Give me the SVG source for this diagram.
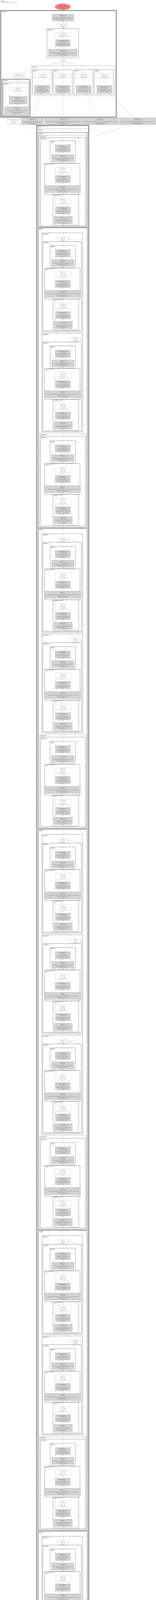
<svg xmlns="http://www.w3.org/2000/svg" width="400" height="4710" viewBox="0 0 400 4710">
<style>
text{font-family:"Liberation Sans",Arial,"DejaVu Sans",sans-serif;fill:#1a1a1a}
.t{font-size:2.4px;text-anchor:middle}
.s{font-size:2.1px}
.lb{font-size:2.1px}
.b{font-weight:bold}
.gn{fill:#d3d3d3;stroke:#8c8c8c;stroke-width:0.3}
.wn{fill:#fff;stroke:#8c8c8c;stroke-width:0.3}
.c{fill:none;stroke:#1a1a1a;stroke-width:0.4}
.cd{fill:none;stroke:#1a1a1a;stroke-width:0.4;stroke-dasharray:1.6 0.8}
.cs{fill:none;stroke:#000;stroke-width:0.6}
.ck{fill:none;stroke:#000;stroke-width:1}
.e{fill:none;stroke:#8f8f8f;stroke-width:0.3;marker-end:url(#ah)}
</style>
<defs>
<marker id="ah" viewBox="0 0 10 10" refX="10" refY="5" markerWidth="1.7" markerHeight="1.7" markerUnits="userSpaceOnUse" orient="auto"><path d="M0,1L10,5L0,9z" fill="#404040"/></marker>
<g id="eBlk"><path class="e" d="M161.8 194L161.8 188"/><path class="e" d="M161.6 169L161.6 163.4"/><path class="e" d="M161.6 147.4L161.3 133.4"/><path class="e" d="M161.2 114.7L161.2 108"/><path class="e" d="M161.2 89L161.2 83.4"/><path class="e" d="M161.2 67.4L161.2 54"/><path class="e" d="M161.2 35.7L161.2 29.7"/></g>
</defs>
<rect width="400" height="4710" fill="#fff"/>
<text class="lb" x="2" y="2.4" style="font-size:1.9px"><tspan class="b" x="2">DeepLabV3</tspan><tspan x="2" dy="2.1">283 tensors total (152.6 MB)</tspan><tspan x="2" dy="2.1">2,587,509 params total (9.9 MB), 158 modules total</tspan></text>

<g id="clusters">
<rect class="ck" x="2" y="27" width="296" height="273"/>
<text class="lb" x="4" y="29.6"><tspan class="b" x="4">DeepLabHead</tspan><tspan x="4" dy="2.4">@classifier</tspan></text>
<rect class="c" x="120.7" y="73.3" width="81" height="74.7"/>
<text class="lb" x="122.2" y="75.9"><tspan class="b" x="122.2">Sequential</tspan><tspan x="122.2" dy="2.4">@classifier.0.project</tspan></text>
<rect class="cd" x="80.7" y="168.3" width="214.3" height="76.7"/>
<text class="lb" x="82.2" y="170.9"><tspan class="b" x="82.2">ModuleList</tspan><tspan x="82.2" dy="2.4">@classifier.0.convs</tspan></text>
<rect class="c" x="83.3" y="178.3" width="50" height="63.4"/>
<text class="lb" x="84.8" y="180.9"><tspan class="b" x="84.8">Sequential</tspan><tspan x="84.8" dy="2.4">@convs.0</tspan></text>
<rect class="c" x="136.7" y="178.3" width="49" height="63.4"/>
<text class="lb" x="138.2" y="180.9"><tspan class="b" x="138.2">ASPPConv</tspan><tspan x="138.2" dy="2.4">@convs.1</tspan></text>
<rect class="c" x="189.3" y="178.3" width="49" height="63.4"/>
<text class="lb" x="190.8" y="180.9"><tspan class="b" x="190.8">ASPPConv</tspan><tspan x="190.8" dy="2.4">@convs.2</tspan></text>
<rect class="c" x="242" y="178.3" width="49.7" height="63.4"/>
<text class="lb" x="243.5" y="180.9"><tspan class="b" x="243.5">ASPPConv</tspan><tspan x="243.5" dy="2.4">@convs.3</tspan></text>
<rect class="cs" x="5" y="202.7" width="72.3" height="94.6"/>
<rect class="c" x="6.7" y="204.4" width="69" height="91.2"/>
<text class="lb" x="8.2" y="206.9"><tspan class="b" x="8.2">ASPPPooling</tspan><tspan x="8.2" dy="2.4">@convs.4</tspan></text>
<rect class="c" x="8.3" y="212" width="65.7" height="81.5"/>
<text class="lb" x="9.8" y="214.6"><tspan class="b" x="9.8">Sequential</tspan><tspan x="9.8" dy="2.4">@convs.4.pool</tspan></text>

<rect class="ck" x="94.3" y="321" width="133.4" height="4368"/>
<text class="lb" x="95.8" y="323.6"><tspan class="b" x="95.8">IntermediateLayerGetter</tspan><tspan x="95.8" dy="2.4">@backbone</tspan></text>
<rect class="cd" x="96.5" y="330" width="129" height="4272"/>
<text class="lb" x="98" y="332.6"><tspan class="b" x="98">Sequential</tspan><tspan x="98" dy="2.4">@features</tspan></text>

<rect class="cs" x="98.8" y="339" width="124.7" height="243"/>
<text class="lb" x="100.3" y="341.6"><tspan class="b" x="100.3">Sequential</tspan><tspan x="100.3" dy="2.4">@stage7</tspan></text>
<rect class="cs" x="98.8" y="583" width="124.7" height="768"/>
<text class="lb" x="100.3" y="585.6"><tspan class="b" x="100.3">Sequential</tspan><tspan x="100.3" dy="2.4">@stage6</tspan></text>
<rect class="cs" x="98.8" y="1353" width="124.7" height="768"/>
<text class="lb" x="100.3" y="1355.6"><tspan class="b" x="100.3">Sequential</tspan><tspan x="100.3" dy="2.4">@stage5</tspan></text>
<rect class="cs" x="98.8" y="2123" width="124.7" height="1025"/>
<text class="lb" x="100.3" y="2125.6"><tspan class="b" x="100.3">Sequential</tspan><tspan x="100.3" dy="2.4">@stage4</tspan></text>
<rect class="cs" x="98.8" y="3150" width="124.7" height="768"/>
<text class="lb" x="100.3" y="3152.6"><tspan class="b" x="100.3">Sequential</tspan><tspan x="100.3" dy="2.4">@stage3</tspan></text>
<rect class="cs" x="98.8" y="3920" width="124.7" height="511"/>
<text class="lb" x="100.3" y="3922.6"><tspan class="b" x="100.3">Sequential</tspan><tspan x="100.3" dy="2.4">@stage2</tspan></text>
<rect class="cs" x="98.8" y="4433" width="124.7" height="167.5"/>
<text class="lb" x="100.3" y="4435.6"><tspan class="b" x="100.3">Sequential</tspan><tspan x="100.3" dy="2.4">@stage1</tspan></text>

<g id="k-A1">
<rect class="cd" x="101.5" y="346" width="120" height="234"/>
<text class="lb" x="103" y="348.6"><tspan class="b" x="103">InvertedResidual</tspan><tspan x="103" dy="2.4">@features.17</tspan></text>
<rect class="c" x="104" y="352.5" width="115" height="226"/>
<text class="lb" x="105.5" y="355.1"><tspan class="b" x="105.5">Sequential</tspan><tspan x="105.5" dy="2.4">@features.17.conv</tspan></text>
<rect class="c" x="128.3" y="360" width="65" height="57.4"/>
<text class="lb" x="129.8" y="362.6"><tspan class="b" x="129.8">Sequential</tspan><tspan x="129.8" dy="2.4">@conv.2-3</tspan></text>
<rect class="c" x="114.3" y="418.4" width="90.7" height="79"/>
<text class="lb" x="115.8" y="421"><tspan class="b" x="115.8">Conv2dNormActivation</tspan><tspan x="115.8" dy="2.4">@conv.1</tspan></text>
<rect class="c" x="136" y="497.4" width="66" height="79"/>
<text class="lb" x="137.5" y="500"><tspan class="b" x="137.5">Conv2dNormActivation</tspan><tspan x="137.5" dy="2.4">@conv.0</tspan></text>
</g>
<g id="k-B1">
<rect class="c" x="107.3" y="596" width="104.4" height="253"/>
<text class="lb" x="108.8" y="598.6"><tspan class="b" x="108.8">InvertedResidual</tspan><tspan x="108.8" dy="2.4">@features.16</tspan></text>
<rect class="c" x="110" y="618.3" width="98.3" height="228"/>
<text class="lb" x="111.5" y="620.9"><tspan class="b" x="111.5">Sequential</tspan><tspan x="111.5" dy="2.4">@features.16.conv</tspan></text>
<rect class="c" x="128.3" y="628.3" width="65" height="57.4"/>
<text class="lb" x="129.8" y="630.9"><tspan class="b" x="129.8">Sequential</tspan><tspan x="129.8" dy="2.4">@conv.2-3</tspan></text>
<rect class="c" x="114.3" y="686.7" width="90.7" height="79"/>
<text class="lb" x="115.8" y="689.3"><tspan class="b" x="115.8">Conv2dNormActivation</tspan><tspan x="115.8" dy="2.4">@conv.1</tspan></text>
<rect class="c" x="136" y="765.7" width="66" height="79"/>
<text class="lb" x="137.5" y="768.3"><tspan class="b" x="137.5">Conv2dNormActivation</tspan><tspan x="137.5" dy="2.4">@conv.0</tspan></text>
</g>
<g id="k-B2">
<rect class="c" x="107.3" y="853" width="104.4" height="253"/>
<text class="lb" x="108.8" y="855.6"><tspan class="b" x="108.8">InvertedResidual</tspan><tspan x="108.8" dy="2.4">@features.15</tspan></text>
<rect class="c" x="110" y="875.3" width="98.3" height="228"/>
<text class="lb" x="111.5" y="877.9"><tspan class="b" x="111.5">Sequential</tspan><tspan x="111.5" dy="2.4">@features.15.conv</tspan></text>
<rect class="c" x="128.3" y="885.3" width="65" height="57.4"/>
<text class="lb" x="129.8" y="887.9"><tspan class="b" x="129.8">Sequential</tspan><tspan x="129.8" dy="2.4">@conv.2-3</tspan></text>
<rect class="c" x="114.3" y="943.7" width="90.7" height="79"/>
<text class="lb" x="115.8" y="946.3"><tspan class="b" x="115.8">Conv2dNormActivation</tspan><tspan x="115.8" dy="2.4">@conv.1</tspan></text>
<rect class="c" x="136" y="1022.7" width="66" height="79"/>
<text class="lb" x="137.5" y="1025.3"><tspan class="b" x="137.5">Conv2dNormActivation</tspan><tspan x="137.5" dy="2.4">@conv.0</tspan></text>
</g>
<g id="k-B3">
<rect class="cd" x="101.5" y="1110" width="120" height="239"/>
<text class="lb" x="103" y="1112.6"><tspan class="b" x="103">InvertedResidual</tspan><tspan x="103" dy="2.4">@features.14</tspan></text>
<rect class="c" x="104" y="1117" width="115" height="229.5"/>
<text class="lb" x="105.5" y="1119.6"><tspan class="b" x="105.5">Sequential</tspan><tspan x="105.5" dy="2.4">@features.14.conv</tspan></text>
<rect class="c" x="128.3" y="1128" width="65" height="57.4"/>
<text class="lb" x="129.8" y="1130.6"><tspan class="b" x="129.8">Sequential</tspan><tspan x="129.8" dy="2.4">@conv.2-3</tspan></text>
<rect class="c" x="114.3" y="1186.4" width="90.7" height="79"/>
<text class="lb" x="115.8" y="1189"><tspan class="b" x="115.8">Conv2dNormActivation</tspan><tspan x="115.8" dy="2.4">@conv.1</tspan></text>
<rect class="c" x="136" y="1265.4" width="66" height="79"/>
<text class="lb" x="137.5" y="1268"><tspan class="b" x="137.5">Conv2dNormActivation</tspan><tspan x="137.5" dy="2.4">@conv.0</tspan></text>
</g>
<g id="k-C1">
<rect class="c" x="107.3" y="1366" width="104.4" height="253"/>
<text class="lb" x="108.8" y="1368.6"><tspan class="b" x="108.8">InvertedResidual</tspan><tspan x="108.8" dy="2.4">@features.13</tspan></text>
<rect class="c" x="110" y="1388.3" width="98.3" height="228"/>
<text class="lb" x="111.5" y="1390.9"><tspan class="b" x="111.5">Sequential</tspan><tspan x="111.5" dy="2.4">@features.13.conv</tspan></text>
<rect class="c" x="128.3" y="1398.3" width="65" height="57.4"/>
<text class="lb" x="129.8" y="1400.9"><tspan class="b" x="129.8">Sequential</tspan><tspan x="129.8" dy="2.4">@conv.2-3</tspan></text>
<rect class="c" x="114.3" y="1456.7" width="90.7" height="79"/>
<text class="lb" x="115.8" y="1459.3"><tspan class="b" x="115.8">Conv2dNormActivation</tspan><tspan x="115.8" dy="2.4">@conv.1</tspan></text>
<rect class="c" x="136" y="1535.7" width="66" height="79"/>
<text class="lb" x="137.5" y="1538.3"><tspan class="b" x="137.5">Conv2dNormActivation</tspan><tspan x="137.5" dy="2.4">@conv.0</tspan></text>
</g>
<g id="k-C2">
<rect class="c" x="107.3" y="1623" width="104.4" height="253"/>
<text class="lb" x="108.8" y="1625.6"><tspan class="b" x="108.8">InvertedResidual</tspan><tspan x="108.8" dy="2.4">@features.12</tspan></text>
<rect class="c" x="110" y="1645.3" width="98.3" height="228"/>
<text class="lb" x="111.5" y="1647.9"><tspan class="b" x="111.5">Sequential</tspan><tspan x="111.5" dy="2.4">@features.12.conv</tspan></text>
<rect class="c" x="128.3" y="1655.3" width="65" height="57.4"/>
<text class="lb" x="129.8" y="1657.9"><tspan class="b" x="129.8">Sequential</tspan><tspan x="129.8" dy="2.4">@conv.2-3</tspan></text>
<rect class="c" x="114.3" y="1713.7" width="90.7" height="79"/>
<text class="lb" x="115.8" y="1716.3"><tspan class="b" x="115.8">Conv2dNormActivation</tspan><tspan x="115.8" dy="2.4">@conv.1</tspan></text>
<rect class="c" x="136" y="1792.7" width="66" height="79"/>
<text class="lb" x="137.5" y="1795.3"><tspan class="b" x="137.5">Conv2dNormActivation</tspan><tspan x="137.5" dy="2.4">@conv.0</tspan></text>
</g>
<g id="k-C3">
<rect class="cd" x="101.5" y="1880" width="120" height="239"/>
<text class="lb" x="103" y="1882.6"><tspan class="b" x="103">InvertedResidual</tspan><tspan x="103" dy="2.4">@features.11</tspan></text>
<rect class="c" x="104" y="1887" width="115" height="229.5"/>
<text class="lb" x="105.5" y="1889.6"><tspan class="b" x="105.5">Sequential</tspan><tspan x="105.5" dy="2.4">@features.11.conv</tspan></text>
<rect class="c" x="128.3" y="1898" width="65" height="57.4"/>
<text class="lb" x="129.8" y="1900.6"><tspan class="b" x="129.8">Sequential</tspan><tspan x="129.8" dy="2.4">@conv.2-3</tspan></text>
<rect class="c" x="114.3" y="1956.4" width="90.7" height="79"/>
<text class="lb" x="115.8" y="1959"><tspan class="b" x="115.8">Conv2dNormActivation</tspan><tspan x="115.8" dy="2.4">@conv.1</tspan></text>
<rect class="c" x="136" y="2035.4" width="66" height="79"/>
<text class="lb" x="137.5" y="2038"><tspan class="b" x="137.5">Conv2dNormActivation</tspan><tspan x="137.5" dy="2.4">@conv.0</tspan></text>
</g>
<g id="k-D1">
<rect class="c" x="107.3" y="2136" width="104.4" height="253"/>
<text class="lb" x="108.8" y="2138.6"><tspan class="b" x="108.8">InvertedResidual</tspan><tspan x="108.8" dy="2.4">@features.10</tspan></text>
<rect class="c" x="110" y="2158.3" width="98.3" height="228"/>
<text class="lb" x="111.5" y="2160.9"><tspan class="b" x="111.5">Sequential</tspan><tspan x="111.5" dy="2.4">@features.10.conv</tspan></text>
<rect class="c" x="128.3" y="2168.3" width="65" height="57.4"/>
<text class="lb" x="129.8" y="2170.9"><tspan class="b" x="129.8">Sequential</tspan><tspan x="129.8" dy="2.4">@conv.2-3</tspan></text>
<rect class="c" x="114.3" y="2226.7" width="90.7" height="79"/>
<text class="lb" x="115.8" y="2229.3"><tspan class="b" x="115.8">Conv2dNormActivation</tspan><tspan x="115.8" dy="2.4">@conv.1</tspan></text>
<rect class="c" x="136" y="2305.7" width="66" height="79"/>
<text class="lb" x="137.5" y="2308.3"><tspan class="b" x="137.5">Conv2dNormActivation</tspan><tspan x="137.5" dy="2.4">@conv.0</tspan></text>
</g>
<g id="k-D2">
<rect class="c" x="107.3" y="2393" width="104.4" height="253"/>
<text class="lb" x="108.8" y="2395.6"><tspan class="b" x="108.8">InvertedResidual</tspan><tspan x="108.8" dy="2.4">@features.9</tspan></text>
<rect class="c" x="110" y="2415.3" width="98.3" height="228"/>
<text class="lb" x="111.5" y="2417.9"><tspan class="b" x="111.5">Sequential</tspan><tspan x="111.5" dy="2.4">@features.9.conv</tspan></text>
<rect class="c" x="128.3" y="2425.3" width="65" height="57.4"/>
<text class="lb" x="129.8" y="2427.9"><tspan class="b" x="129.8">Sequential</tspan><tspan x="129.8" dy="2.4">@conv.2-3</tspan></text>
<rect class="c" x="114.3" y="2483.7" width="90.7" height="79"/>
<text class="lb" x="115.8" y="2486.3"><tspan class="b" x="115.8">Conv2dNormActivation</tspan><tspan x="115.8" dy="2.4">@conv.1</tspan></text>
<rect class="c" x="136" y="2562.7" width="66" height="79"/>
<text class="lb" x="137.5" y="2565.3"><tspan class="b" x="137.5">Conv2dNormActivation</tspan><tspan x="137.5" dy="2.4">@conv.0</tspan></text>
</g>
<g id="k-D3">
<rect class="c" x="107.3" y="2650" width="104.4" height="253"/>
<text class="lb" x="108.8" y="2652.6"><tspan class="b" x="108.8">InvertedResidual</tspan><tspan x="108.8" dy="2.4">@features.8</tspan></text>
<rect class="c" x="110" y="2672.3" width="98.3" height="228"/>
<text class="lb" x="111.5" y="2674.9"><tspan class="b" x="111.5">Sequential</tspan><tspan x="111.5" dy="2.4">@features.8.conv</tspan></text>
<rect class="c" x="128.3" y="2682.3" width="65" height="57.4"/>
<text class="lb" x="129.8" y="2684.9"><tspan class="b" x="129.8">Sequential</tspan><tspan x="129.8" dy="2.4">@conv.2-3</tspan></text>
<rect class="c" x="114.3" y="2740.7" width="90.7" height="79"/>
<text class="lb" x="115.8" y="2743.3"><tspan class="b" x="115.8">Conv2dNormActivation</tspan><tspan x="115.8" dy="2.4">@conv.1</tspan></text>
<rect class="c" x="136" y="2819.7" width="66" height="79"/>
<text class="lb" x="137.5" y="2822.3"><tspan class="b" x="137.5">Conv2dNormActivation</tspan><tspan x="137.5" dy="2.4">@conv.0</tspan></text>
</g>
<g id="k-D4">
<rect class="cd" x="101.5" y="2907" width="120" height="239"/>
<text class="lb" x="103" y="2909.6"><tspan class="b" x="103">InvertedResidual</tspan><tspan x="103" dy="2.4">@features.7</tspan></text>
<rect class="c" x="104" y="2914" width="115" height="229.5"/>
<text class="lb" x="105.5" y="2916.6"><tspan class="b" x="105.5">Sequential</tspan><tspan x="105.5" dy="2.4">@features.7.conv</tspan></text>
<rect class="c" x="128.3" y="2925" width="65" height="57.4"/>
<text class="lb" x="129.8" y="2927.6"><tspan class="b" x="129.8">Sequential</tspan><tspan x="129.8" dy="2.4">@conv.2-3</tspan></text>
<rect class="c" x="114.3" y="2983.4" width="90.7" height="79"/>
<text class="lb" x="115.8" y="2986"><tspan class="b" x="115.8">Conv2dNormActivation</tspan><tspan x="115.8" dy="2.4">@conv.1</tspan></text>
<rect class="c" x="136" y="3062.4" width="66" height="79"/>
<text class="lb" x="137.5" y="3065"><tspan class="b" x="137.5">Conv2dNormActivation</tspan><tspan x="137.5" dy="2.4">@conv.0</tspan></text>
</g>
<g id="k-E1">
<rect class="c" x="107.3" y="3163" width="104.4" height="253"/>
<text class="lb" x="108.8" y="3165.6"><tspan class="b" x="108.8">InvertedResidual</tspan><tspan x="108.8" dy="2.4">@features.6</tspan></text>
<rect class="c" x="110" y="3185.3" width="98.3" height="228"/>
<text class="lb" x="111.5" y="3187.9"><tspan class="b" x="111.5">Sequential</tspan><tspan x="111.5" dy="2.4">@features.6.conv</tspan></text>
<rect class="c" x="128.3" y="3195.3" width="65" height="57.4"/>
<text class="lb" x="129.8" y="3197.9"><tspan class="b" x="129.8">Sequential</tspan><tspan x="129.8" dy="2.4">@conv.2-3</tspan></text>
<rect class="c" x="114.3" y="3253.7" width="90.7" height="79"/>
<text class="lb" x="115.8" y="3256.3"><tspan class="b" x="115.8">Conv2dNormActivation</tspan><tspan x="115.8" dy="2.4">@conv.1</tspan></text>
<rect class="c" x="136" y="3332.7" width="66" height="79"/>
<text class="lb" x="137.5" y="3335.3"><tspan class="b" x="137.5">Conv2dNormActivation</tspan><tspan x="137.5" dy="2.4">@conv.0</tspan></text>
</g>
<g id="k-E2">
<rect class="c" x="107.3" y="3420" width="104.4" height="253"/>
<text class="lb" x="108.8" y="3422.6"><tspan class="b" x="108.8">InvertedResidual</tspan><tspan x="108.8" dy="2.4">@features.5</tspan></text>
<rect class="c" x="110" y="3442.3" width="98.3" height="228"/>
<text class="lb" x="111.5" y="3444.9"><tspan class="b" x="111.5">Sequential</tspan><tspan x="111.5" dy="2.4">@features.5.conv</tspan></text>
<rect class="c" x="128.3" y="3452.3" width="65" height="57.4"/>
<text class="lb" x="129.8" y="3454.9"><tspan class="b" x="129.8">Sequential</tspan><tspan x="129.8" dy="2.4">@conv.2-3</tspan></text>
<rect class="c" x="114.3" y="3510.7" width="90.7" height="79"/>
<text class="lb" x="115.8" y="3513.3"><tspan class="b" x="115.8">Conv2dNormActivation</tspan><tspan x="115.8" dy="2.4">@conv.1</tspan></text>
<rect class="c" x="136" y="3589.7" width="66" height="79"/>
<text class="lb" x="137.5" y="3592.3"><tspan class="b" x="137.5">Conv2dNormActivation</tspan><tspan x="137.5" dy="2.4">@conv.0</tspan></text>
</g>
<g id="k-E3">
<rect class="cd" x="101.5" y="3677" width="120" height="239"/>
<text class="lb" x="103" y="3679.6"><tspan class="b" x="103">InvertedResidual</tspan><tspan x="103" dy="2.4">@features.4</tspan></text>
<rect class="c" x="104" y="3684" width="115" height="229.5"/>
<text class="lb" x="105.5" y="3686.6"><tspan class="b" x="105.5">Sequential</tspan><tspan x="105.5" dy="2.4">@features.4.conv</tspan></text>
<rect class="c" x="128.3" y="3695" width="65" height="57.4"/>
<text class="lb" x="129.8" y="3697.6"><tspan class="b" x="129.8">Sequential</tspan><tspan x="129.8" dy="2.4">@conv.2-3</tspan></text>
<rect class="c" x="114.3" y="3753.4" width="90.7" height="79"/>
<text class="lb" x="115.8" y="3756"><tspan class="b" x="115.8">Conv2dNormActivation</tspan><tspan x="115.8" dy="2.4">@conv.1</tspan></text>
<rect class="c" x="136" y="3832.4" width="66" height="79"/>
<text class="lb" x="137.5" y="3835"><tspan class="b" x="137.5">Conv2dNormActivation</tspan><tspan x="137.5" dy="2.4">@conv.0</tspan></text>
</g>
<g id="k-F1">
<rect class="c" x="107.3" y="3933" width="104.4" height="253"/>
<text class="lb" x="108.8" y="3935.6"><tspan class="b" x="108.8">InvertedResidual</tspan><tspan x="108.8" dy="2.4">@features.3</tspan></text>
<rect class="c" x="110" y="3955.3" width="98.3" height="228"/>
<text class="lb" x="111.5" y="3957.9"><tspan class="b" x="111.5">Sequential</tspan><tspan x="111.5" dy="2.4">@features.3.conv</tspan></text>
<rect class="c" x="128.3" y="3965.3" width="65" height="57.4"/>
<text class="lb" x="129.8" y="3967.9"><tspan class="b" x="129.8">Sequential</tspan><tspan x="129.8" dy="2.4">@conv.2-3</tspan></text>
<rect class="c" x="114.3" y="4023.7" width="90.7" height="79"/>
<text class="lb" x="115.8" y="4026.3"><tspan class="b" x="115.8">Conv2dNormActivation</tspan><tspan x="115.8" dy="2.4">@conv.1</tspan></text>
<rect class="c" x="136" y="4102.7" width="66" height="79"/>
<text class="lb" x="137.5" y="4105.3"><tspan class="b" x="137.5">Conv2dNormActivation</tspan><tspan x="137.5" dy="2.4">@conv.0</tspan></text>
</g>
<g id="k-F2">
<rect class="cd" x="101.5" y="4190" width="120" height="239"/>
<text class="lb" x="103" y="4192.6"><tspan class="b" x="103">InvertedResidual</tspan><tspan x="103" dy="2.4">@features.2</tspan></text>
<rect class="c" x="104" y="4197" width="115" height="229.5"/>
<text class="lb" x="105.5" y="4199.6"><tspan class="b" x="105.5">Sequential</tspan><tspan x="105.5" dy="2.4">@features.2.conv</tspan></text>
<rect class="c" x="128.3" y="4208" width="65" height="57.4"/>
<text class="lb" x="129.8" y="4210.6"><tspan class="b" x="129.8">Sequential</tspan><tspan x="129.8" dy="2.4">@conv.2-3</tspan></text>
<rect class="c" x="114.3" y="4266.4" width="90.7" height="79"/>
<text class="lb" x="115.8" y="4269"><tspan class="b" x="115.8">Conv2dNormActivation</tspan><tspan x="115.8" dy="2.4">@conv.1</tspan></text>
<rect class="c" x="136" y="4345.4" width="66" height="79"/>
<text class="lb" x="137.5" y="4348"><tspan class="b" x="137.5">Conv2dNormActivation</tspan><tspan x="137.5" dy="2.4">@conv.0</tspan></text>
</g>
<g id="k-G1">
<rect class="cd" x="101.5" y="4440" width="120" height="158.4"/>
<text class="lb" x="103" y="4442.6"><tspan class="b" x="103">InvertedResidual</tspan><tspan x="103" dy="2.4">@features.1</tspan></text>
<rect class="c" x="104" y="4447" width="115" height="149.7"/>
<text class="lb" x="105.5" y="4449.6"><tspan class="b" x="105.5">Sequential</tspan><tspan x="105.5" dy="2.4">@features.1.conv</tspan></text>
<rect class="c" x="128.3" y="4458" width="65" height="57.4"/>
<text class="lb" x="129.8" y="4460.6"><tspan class="b" x="129.8">Sequential</tspan><tspan x="129.8" dy="2.4">@conv.1-2</tspan></text>
<rect class="c" x="114.3" y="4516.4" width="90.7" height="79"/>
<text class="lb" x="115.8" y="4519"><tspan class="b" x="115.8">Conv2dNormActivation</tspan><tspan x="115.8" dy="2.4">@conv.0</tspan></text>
</g>
<rect class="c" x="114.7" y="4604" width="90" height="81.5"/>
<text class="lb" x="116.2" y="4606.6"><tspan class="b" x="116.2">Conv2dNormActivation</tspan><tspan x="116.2" dy="2.4">@features.0</tspan></text>
</g>

<g id="edges">
<path class="e" d="M161.2 36L161 25.3"/>
<path class="e" d="M161.2 60L161.2 54.3"/>
<path class="e" d="M161.3 83.3L161.2 71.3"/>
<path class="e" d="M161.3 101.3L161.3 94.3"/>
<path class="e" d="M161.3 125.7L161.3 119.3"/>
<path class="e" d="M161 151L161.3 144.3"/>
<path class="e" d="M110 188L146 163.6"/>
<path class="e" d="M161.3 188L161 165.6"/>
<path class="e" d="M214.4 188L176 163.6"/>
<path class="e" d="M267.4 188L180.6 160.6"/>
<path class="e" d="M58 186.8L141.5 160.8"/>
<path class="e" d="M108.8 218.3L109.5 199.3"/>
<path class="e" d="M161.2 218.3L161.3 199.3"/>
<path class="e" d="M214.5 218.3L214.4 199.3"/>
<path class="e" d="M267.8 218.3L267.4 199.3"/>
<path class="e" d="M46.7 223.3L47.7 200.6"/>
<path class="e" d="M46.7 246.7L46.7 234.3"/>
<path class="e" d="M45 273.3L46.5 266.7"/>
<path class="e" d="M38 302.7L40 291.7"/>
<path class="e" d="M83.3 301.7L105.5 238.8"/>
<path class="e" d="M161.2 301.7L161.2 238.8"/>
<path class="e" d="M252 301.7L220 238.8"/>
<path class="e" d="M343 301.7L278.5 238.8"/>
<path class="e" d="M143.5 370.7L48.3 318.7"/>
<path class="e" d="M151 370.7L88 319.3"/>
<path class="e" d="M161.2 370.7L161.2 319.3"/>
<path class="e" d="M172 370.7L250 319.3"/>
<path class="e" d="M179.5 370.7L330 319.3"/>
<use href="#eBlk" y="360"/>
<use href="#eBlk" y="628.3"/>
<use href="#eBlk" y="885.3"/>
<use href="#eBlk" y="1128"/>
<use href="#eBlk" y="1398.3"/>
<use href="#eBlk" y="1655.3"/>
<use href="#eBlk" y="1898"/>
<use href="#eBlk" y="2168.3"/>
<use href="#eBlk" y="2425.3"/>
<use href="#eBlk" y="2682.3"/>
<use href="#eBlk" y="2925"/>
<use href="#eBlk" y="3195.3"/>
<use href="#eBlk" y="3452.3"/>
<use href="#eBlk" y="3695"/>
<use href="#eBlk" y="3965.3"/>
<use href="#eBlk" y="4208"/>
<path class="e" d="M161.2 639L161.35 617.3"/>
<path class="e" d="M161.2 896L193.65 874.3"/>
<path class="e" d="M161.2 1409L161.35 1387.3"/>
<path class="e" d="M161.2 1666L193.65 1644.3"/>
<path class="e" d="M161.2 2179L161.35 2157.3"/>
<path class="e" d="M161.2 2436L193.65 2414.3"/>
<path class="e" d="M161.2 2693L161.35 2671.3"/>
<path class="e" d="M161.2 3206L161.35 3184.3"/>
<path class="e" d="M161.2 3463L193.65 3441.3"/>
<path class="e" d="M161.2 3976L161.35 3954.3"/>
<path class="e" d="M161.35 606.3L162 573"/>
<path class="e" d="M193.65 863.3L162 841.3"/>
<path class="e" d="M161.2 1138.7L162 1098.3"/>
<path class="e" d="M161.35 1376.3L162 1341"/>
<path class="e" d="M193.65 1633.3L162 1611.3"/>
<path class="e" d="M161.2 1908.7L162 1868.3"/>
<path class="e" d="M161.35 2146.3L162 2111"/>
<path class="e" d="M193.65 2403.3L162 2381.3"/>
<path class="e" d="M161.35 2660.3L162 2638.3"/>
<path class="e" d="M161.2 2935.7L162 2895.3"/>
<path class="e" d="M161.35 3173.3L162 3138"/>
<path class="e" d="M193.65 3430.3L162 3408.3"/>
<path class="e" d="M161.2 3705.7L162 3665.3"/>
<path class="e" d="M161.35 3943.3L162 3908"/>
<path class="e" d="M161.2 4218.7L162 4178.3"/>
<path class="e" d="M161.2 4468.7L162 4421"/>
<path class="e" d="M207.3 868.8C211 866.8 213.5 860.8 213.5 850.8L213.5 631.8C213.5 619.8 192 611.8 175 611.8"/>
<path class="e" d="M178 1138.7C192 1133.7 213.5 1128.7 213.5 1110.7L213.5 888.8C213.5 878.8 210 869.8 207.3 868.8"/>
<path class="e" d="M207.3 1638.8C211 1636.8 213.5 1630.8 213.5 1620.8L213.5 1401.8C213.5 1389.8 192 1381.8 175 1381.8"/>
<path class="e" d="M178 1908.7C192 1903.7 213.5 1898.7 213.5 1880.7L213.5 1658.8C213.5 1648.8 210 1639.8 207.3 1638.8"/>
<path class="e" d="M207.3 2408.8C211 2406.8 213.5 2400.8 213.5 2390.8L213.5 2171.8C213.5 2159.8 192 2151.8 175 2151.8"/>
<path class="e" d="M175 2665.8C195 2665.8 213.5 2660.8 213.5 2645.8L213.5 2428.8C213.5 2418.8 210 2409.8 207.3 2408.8"/>
<path class="e" d="M178 2935.7C192 2930.7 213.5 2925.7 213.5 2907.7L213.5 2685.8C213.5 2673.8 192 2665.8 175 2665.8"/>
<path class="e" d="M207.3 3435.8C211 3433.8 213.5 3427.8 213.5 3417.8L213.5 3198.8C213.5 3186.8 192 3178.8 175 3178.8"/>
<path class="e" d="M178 3705.7C192 3700.7 213.5 3695.7 213.5 3677.7L213.5 3455.8C213.5 3445.8 210 3436.8 207.3 3435.8"/>
<path class="e" d="M178 4218.7C192 4213.7 213.5 4208.7 213.5 4190.7L213.5 3968.8C213.5 3956.8 192 3948.8 175 3948.8"/>
<path class="e" d="M161.2 4572.7L161.2 4566"/>
<path class="e" d="M161.2 4547L161.2 4541.4"/>
<path class="e" d="M161.2 4525.4L161.2 4512"/>
<path class="e" d="M161.2 4493.7L161.2 4487.7"/>
<path class="e" d="M161.2 4613L161.2 4591.4"/>
<path class="e" d="M161.2 4634L161.2 4629"/>
<path class="e" d="M161.2 4660L161.2 4653"/>
<path class="e" d="M161.2 4691.5L161.2 4678.7"/>
</g>

<g id="nodes">
<g id="output"><ellipse cx="161" cy="17.3" rx="20" ry="8" fill="#f08080" stroke="#b05050" stroke-width="0.3"/><text class="t" x="161" y="14.6"><tspan x="161" class="b">output_1_284</tspan><tspan x="161" dy="3.1">1x21x224x224 (4.1 MB)</tspan><tspan x="161" dy="3.1">@output</tspan></text></g>
<g id="h-conv"><rect class="gn" x="133.3" y="36" width="56" height="18.3"/><text class="t" x="161.3" y="39.7"><tspan x="161.3" class="b">Conv2d_1_171</tspan><tspan x="161.3" dy="3.15">(1, 21, 28, 28)</tspan><tspan x="161.3" dy="3.15" class="s">in_channels=256, out_channels=21, kernel_size=(1, 1)</tspan><tspan x="161.3" dy="3.15">params: weight(21, 256, 1, 1), bias(21)</tspan><tspan x="161.3" dy="3.15">classifier.4</tspan></text></g>
<g id="h-relu"><rect class="wn" x="147.3" y="60" width="27.7" height="11.3"/><text class="t" x="161.15" y="63.6"><tspan x="161.15" class="b">ReLU_1_170</tspan><tspan x="161.15" dy="3.1">(1, 256, 28, 28)</tspan><tspan x="161.15" dy="3.1">classifier.3</tspan></text></g>
<g id="p-relu"><rect class="wn" x="142.7" y="83.3" width="37.3" height="11"/><text class="t" x="161.35" y="86.8"><tspan x="161.35" class="b">ReLU_2_169</tspan><tspan x="161.35" dy="3.1">(1, 256, 28, 28)</tspan><tspan x="161.35" dy="3.1">classifier.0.project.2</tspan></text></g>
<g id="p-bn"><rect class="gn" x="142.3" y="101.3" width="38" height="18"/><text class="t" x="161.3" y="105"><tspan x="161.3" class="b">BatchNorm2d_2_168</tspan><tspan x="161.3" dy="3.1">(1, 256, 28, 28)</tspan><tspan x="161.3" dy="3.1">eps=1e-05, momentum=0.1</tspan><tspan x="161.3" dy="3.1">params: weight(256), bias(256)</tspan><tspan x="161.3" dy="3.1">classifier.0.project.1</tspan></text></g>
<g id="p-conv"><rect class="gn" x="124" y="125.7" width="74.7" height="18.6"/><text class="t" x="161.35" y="129.5"><tspan x="161.35" class="b">Conv2d_2_167</tspan><tspan x="161.35" dy="3.15">(1, 256, 28, 28)</tspan><tspan x="161.35" dy="3.15" class="s">in_channels=1280, out_channels=256, kernel_size=(1, 1), bias=False</tspan><tspan x="161.35" dy="3.15">params: weight(256, 1280, 1, 1)</tspan><tspan x="161.35" dy="3.15">classifier.0.project.0</tspan></text></g>
<g id="cat"><ellipse class="wn" cx="161" cy="158.3" rx="20.7" ry="7.3"/><text class="t" x="161" y="155.6"><tspan x="161" class="b">cat_2_166</tspan><tspan x="161" dy="3.1">(1, 1280, 28, 28)</tspan><tspan x="161" dy="3.1">dim=1</tspan></text></g>
<g id="b0-relu"><rect class="wn" x="87.3" y="188" width="45.4" height="11.3"/><text class="t" x="110" y="191.6"><tspan x="110" class="b">ReLU_2_153</tspan><tspan x="110" dy="3.1">(1, 256, 28, 28)</tspan><tspan x="110" dy="3.1">classifier.0.convs.0.2</tspan></text></g>
<g id="b1-relu"><rect class="wn" x="140" y="188" width="42.7" height="11.3"/><text class="t" x="161.35" y="191.6"><tspan x="161.35" class="b">ReLU_2_156</tspan><tspan x="161.35" dy="3.1">(1, 256, 28, 28)</tspan><tspan x="161.35" dy="3.1">classifier.0.convs.1.2</tspan></text></g>
<g id="b2-relu"><rect class="wn" x="192.7" y="188" width="43.3" height="11.3"/><text class="t" x="214.35" y="191.6"><tspan x="214.35" class="b">ReLU_2_159</tspan><tspan x="214.35" dy="3.1">(1, 256, 28, 28)</tspan><tspan x="214.35" dy="3.1">classifier.0.convs.2.2</tspan></text></g>
<g id="b3-relu"><rect class="wn" x="245.7" y="188" width="43.3" height="11.3"/><text class="t" x="267.35" y="191.6"><tspan x="267.35" class="b">ReLU_2_162</tspan><tspan x="267.35" dy="3.1">(1, 256, 28, 28)</tspan><tspan x="267.35" dy="3.1">classifier.0.convs.3.2</tspan></text></g>
<g id="b0-bn"><rect class="gn" x="88.3" y="218.3" width="40" height="20.5"/><text class="t" x="108.3" y="222.6"><tspan x="108.3" class="b">BatchNorm2d_2_152</tspan><tspan x="108.3" dy="3.2">(1, 256, 28, 28)</tspan><tspan x="108.3" dy="3.2">eps=1e-05, momentum=0.1</tspan><tspan x="108.3" dy="3.2">params: weight(256), bias(256)</tspan><tspan x="108.3" dy="3.2">classifier.0.convs.0.1</tspan></text></g>
<g id="b1-bn"><rect class="gn" x="141.7" y="218.3" width="39" height="20.5"/><text class="t" x="161.2" y="222.6"><tspan x="161.2" class="b">BatchNorm2d_2_155</tspan><tspan x="161.2" dy="3.2">(1, 256, 28, 28)</tspan><tspan x="161.2" dy="3.2">eps=1e-05, momentum=0.1</tspan><tspan x="161.2" dy="3.2">params: weight(256), bias(256)</tspan><tspan x="161.2" dy="3.2">classifier.0.convs.1.1</tspan></text></g>
<g id="b2-bn"><rect class="gn" x="195" y="218.3" width="39" height="20.5"/><text class="t" x="214.5" y="222.6"><tspan x="214.5" class="b">BatchNorm2d_2_158</tspan><tspan x="214.5" dy="3.2">(1, 256, 28, 28)</tspan><tspan x="214.5" dy="3.2">eps=1e-05, momentum=0.1</tspan><tspan x="214.5" dy="3.2">params: weight(256), bias(256)</tspan><tspan x="214.5" dy="3.2">classifier.0.convs.2.1</tspan></text></g>
<g id="b3-bn"><rect class="gn" x="248.3" y="218.3" width="39" height="20.5"/><text class="t" x="267.8" y="222.6"><tspan x="267.8" class="b">BatchNorm2d_2_161</tspan><tspan x="267.8" dy="3.2">(1, 256, 28, 28)</tspan><tspan x="267.8" dy="3.2">eps=1e-05, momentum=0.1</tspan><tspan x="267.8" dy="3.2">params: weight(256), bias(256)</tspan><tspan x="267.8" dy="3.2">classifier.0.convs.3.1</tspan></text></g>
<g id="interp"><ellipse class="wn" cx="47.7" cy="193.3" rx="22.3" ry="7.3"/><text class="t" x="47.7" y="190.6"><tspan x="47.7" class="b">interpolate_2_165</tspan><tspan x="47.7" dy="3.1">(1, 256, 28, 28)</tspan><tspan x="47.7" dy="3.1">size=(28, 28), mode=bilinear</tspan></text></g>
<g id="pool-relu"><rect class="wn" x="26.7" y="223.3" width="40" height="11"/><text class="t" x="46.7" y="226.8"><tspan x="46.7" class="b">ReLU_2_164</tspan><tspan x="46.7" dy="3.1">(1, 256, 1, 1)</tspan><tspan x="46.7" dy="3.1">classifier.0.convs.4.3</tspan></text></g>
<g id="pool-bn"><rect class="gn" x="23.3" y="246.7" width="46.7" height="20"/><text class="t" x="46.65" y="250.9"><tspan x="46.65" class="b">BatchNorm2d_2_163</tspan><tspan x="46.65" dy="3.15">(1, 256, 1, 1)</tspan><tspan x="46.65" dy="3.15">eps=1e-05, momentum=0.1</tspan><tspan x="46.65" dy="3.15">params: weight(256), bias(256)</tspan><tspan x="46.65" dy="3.15">classifier.0.convs.4.2</tspan></text></g>
<g id="pool-conv"><rect class="gn" x="11.7" y="273.3" width="65" height="18.4"/><text class="t" x="44.2" y="277.1"><tspan x="44.2" class="b">Conv2d_2_162</tspan><tspan x="44.2" dy="3.15">(1, 256, 1, 1)</tspan><tspan x="44.2" dy="3.15" class="s">in_channels=320, out_channels=256, kernel_size=(1, 1)</tspan><tspan x="44.2" dy="3.15">params: weight(256, 320, 1, 1)</tspan><tspan x="44.2" dy="3.15">classifier.0.convs.4.1</tspan></text></g>
<g id="pool-avg"><rect class="wn" x="19" y="302.7" width="34.3" height="16"/><text class="t" x="36.15" y="306.6"><tspan x="36.15" class="b">AdaptiveAvgPool2d_2_160</tspan><tspan x="36.15" dy="3.15">(1, 320, 1, 1)</tspan><tspan x="36.15" dy="3.15">output_size=1</tspan><tspan x="36.15" dy="3.15">classifier.0.convs.4.0</tspan></text></g>
<g id="b0-conv"><rect class="gn" x="55" y="301.7" width="56.7" height="17.6"/><text class="t" x="83.35" y="305.4"><tspan x="83.35" class="b">Conv2d_2_151</tspan><tspan x="83.35" dy="3.05">(1, 256, 28, 28)</tspan><tspan x="83.35" dy="3.05" class="s">in_channels=320, out_channels=256, kernel_size=(1, 1)</tspan><tspan x="83.35" dy="3.05">params: weight(256, 320, 1, 1)</tspan><tspan x="83.35" dy="3.05">classifier.0.convs.0.0</tspan></text></g>
<g id="b1-conv"><rect class="gn" x="114" y="301.7" width="94.3" height="17.6"/><text class="t" x="161.15" y="305.4"><tspan x="161.15" class="b">Conv2d_2_154</tspan><tspan x="161.15" dy="3.05">(1, 256, 28, 28)</tspan><tspan x="161.15" dy="3.05" class="s">in_channels=320, out_channels=256, kernel_size=(3, 3), padding=(12, 12), dilation=(12, 12)</tspan><tspan x="161.15" dy="3.05">params: weight(256, 320, 3, 3)</tspan><tspan x="161.15" dy="3.05">classifier.0.convs.1.0</tspan></text></g>
<g id="b2-conv"><rect class="gn" x="210" y="301.7" width="94" height="17.6"/><text class="t" x="257" y="305.4"><tspan x="257" class="b">Conv2d_2_157</tspan><tspan x="257" dy="3.05">(1, 256, 28, 28)</tspan><tspan x="257" dy="3.05" class="s">in_channels=320, out_channels=256, kernel_size=(3, 3), padding=(24, 24), dilation=(24, 24)</tspan><tspan x="257" dy="3.05">params: weight(256, 320, 3, 3)</tspan><tspan x="257" dy="3.05">classifier.0.convs.2.0</tspan></text></g>
<g id="b3-conv"><rect class="gn" x="306" y="301.7" width="93.3" height="17.6"/><text class="t" x="352.65" y="305.4"><tspan x="352.65" class="b">Conv2d_2_160</tspan><tspan x="352.65" dy="3.05">(1, 256, 28, 28)</tspan><tspan x="352.65" dy="3.05" class="s">in_channels=320, out_channels=256, kernel_size=(3, 3), padding=(36, 36), dilation=(36, 36)</tspan><tspan x="352.65" dy="3.05">params: weight(256, 320, 3, 3)</tspan><tspan x="352.65" dy="3.05">classifier.0.convs.3.0</tspan></text></g>

<g id="A1">
<g id="A1-pbn"><rect class="gn" x="141.7" y="370.7" width="39" height="19"/><text class="t" x="161.2" y="374.6"><tspan x="161.2" class="b">BatchNorm2d_17_8</tspan><tspan x="161.2" dy="3.15">(1, 320, 28, 28)</tspan><tspan x="161.2" dy="3.15">eps=1e-05, momentum=0.1</tspan><tspan x="161.2" dy="3.15">params: weight(320), bias(320)</tspan><tspan x="161.2" dy="3.15">features.17.conv.3</tspan></text></g>
<g id="A1-pcv"><rect class="gn" x="132.3" y="395.7" width="57.7" height="18.3"/><text class="t" x="161.15" y="399.4"><tspan x="161.15" class="b">Conv2d_17_7</tspan><tspan x="161.15" dy="3.15">(1, 320, 28, 28)</tspan><tspan x="161.15" dy="3.15" class="s">in_channels=960, out_channels=320, kernel_size=(1, 1)</tspan><tspan x="161.15" dy="3.15">params: weight(320, 960, 1, 1)</tspan><tspan x="161.15" dy="3.15">features.17.conv.2</tspan></text></g>
<g id="A1-dact"><rect class="wn" x="141.85" y="427.4" width="38.3" height="16"/><text class="t" x="161" y="431.3"><tspan x="161" class="b">ReLU6_17_6</tspan><tspan x="161" dy="3.15">(1, 960, 28, 28)</tspan><tspan x="161" dy="3.15">inplace=True</tspan><tspan x="161" dy="3.15">features.17.conv.1.2</tspan></text></g>
<g id="A1-dbn"><rect class="gn" x="141.7" y="449" width="39" height="19"/><text class="t" x="161.2" y="452.9"><tspan x="161.2" class="b">BatchNorm2d_17_5</tspan><tspan x="161.2" dy="3.15">(1, 960, 28, 28)</tspan><tspan x="161.2" dy="3.15">eps=1e-05, momentum=0.1</tspan><tspan x="161.2" dy="3.15">params: weight(960), bias(960)</tspan><tspan x="161.2" dy="3.15">features.17.conv.1.1</tspan></text></g>
<g id="A1-dcv"><rect class="gn" x="115.7" y="474.7" width="91" height="18.7"/><text class="t" x="161.2" y="478.5"><tspan x="161.2" class="b">Conv2d_17_4</tspan><tspan x="161.2" dy="3.15">(1, 960, 28, 28)</tspan><tspan x="161.2" dy="3.15" class="s">in_channels=960, out_channels=960, kernel_size=(3, 3), padding=(1, 1), groups=960</tspan><tspan x="161.2" dy="3.15">params: weight(960, 1, 3, 3)</tspan><tspan x="161.2" dy="3.15">features.17.conv.1.0</tspan></text></g>
<g id="A1-eact"><rect class="wn" x="142.5" y="507.4" width="38.3" height="16"/><text class="t" x="161.65" y="511.3"><tspan x="161.65" class="b">ReLU6_17_3</tspan><tspan x="161.65" dy="3.15">(1, 960, 28, 28)</tspan><tspan x="161.65" dy="3.15">inplace=True</tspan><tspan x="161.65" dy="3.15">features.17.conv.0.2</tspan></text></g>
<g id="A1-ebn"><rect class="gn" x="142" y="529" width="39" height="19"/><text class="t" x="161.5" y="532.9"><tspan x="161.5" class="b">BatchNorm2d_17_2</tspan><tspan x="161.5" dy="3.15">(1, 960, 28, 28)</tspan><tspan x="161.5" dy="3.15">eps=1e-05, momentum=0.1</tspan><tspan x="161.5" dy="3.15">params: weight(960), bias(960)</tspan><tspan x="161.5" dy="3.15">features.17.conv.0.1</tspan></text></g>
<g id="A1-ecv"><rect class="gn" x="138.5" y="554" width="47" height="19"/><text class="t" x="162" y="557.9"><tspan x="162" class="b">Conv2d_17_1</tspan><tspan x="162" dy="3.15">(1, 960, 28, 28)</tspan><tspan x="162" dy="3.15">in_channels=160, out_channels=960</tspan><tspan x="162" dy="3.15">params: weight(960, 160, 1, 1)</tspan><tspan x="162" dy="3.15">features.17.conv.0.0</tspan></text></g>
</g>

<g id="B1">
<g id="B1-add"><rect class="wn" x="147.7" y="606.3" width="27.3" height="11"/><text class="t" x="161.35" y="609.8"><tspan x="161.35" class="b">add_16_9</tspan><tspan x="161.35" dy="3.1">(1, 160, 28, 28)</tspan><tspan x="161.35" dy="3.1">features.16</tspan></text></g>
<g id="B1-pbn"><rect class="gn" x="141.7" y="639" width="39" height="19"/><text class="t" x="161.2" y="642.9"><tspan x="161.2" class="b">BatchNorm2d_16_8</tspan><tspan x="161.2" dy="3.15">(1, 160, 28, 28)</tspan><tspan x="161.2" dy="3.15">eps=1e-05, momentum=0.1</tspan><tspan x="161.2" dy="3.15">params: weight(160), bias(160)</tspan><tspan x="161.2" dy="3.15">features.16.conv.3</tspan></text></g>
<g id="B1-pcv"><rect class="gn" x="132.3" y="664" width="57.7" height="18.3"/><text class="t" x="161.15" y="667.7"><tspan x="161.15" class="b">Conv2d_16_7</tspan><tspan x="161.15" dy="3.15">(1, 160, 28, 28)</tspan><tspan x="161.15" dy="3.15" class="s">in_channels=960, out_channels=160, kernel_size=(1, 1)</tspan><tspan x="161.15" dy="3.15">params: weight(160, 960, 1, 1)</tspan><tspan x="161.15" dy="3.15">features.16.conv.2</tspan></text></g>
<g id="B1-dact"><rect class="wn" x="141.85" y="695.7" width="38.3" height="16"/><text class="t" x="161" y="699.6"><tspan x="161" class="b">ReLU6_16_6</tspan><tspan x="161" dy="3.15">(1, 960, 28, 28)</tspan><tspan x="161" dy="3.15">inplace=True</tspan><tspan x="161" dy="3.15">features.16.conv.1.2</tspan></text></g>
<g id="B1-dbn"><rect class="gn" x="141.7" y="717.3" width="39" height="19"/><text class="t" x="161.2" y="721.2"><tspan x="161.2" class="b">BatchNorm2d_16_5</tspan><tspan x="161.2" dy="3.15">(1, 960, 28, 28)</tspan><tspan x="161.2" dy="3.15">eps=1e-05, momentum=0.1</tspan><tspan x="161.2" dy="3.15">params: weight(960), bias(960)</tspan><tspan x="161.2" dy="3.15">features.16.conv.1.1</tspan></text></g>
<g id="B1-dcv"><rect class="gn" x="115.7" y="743" width="91" height="18.7"/><text class="t" x="161.2" y="746.8"><tspan x="161.2" class="b">Conv2d_16_4</tspan><tspan x="161.2" dy="3.15">(1, 960, 28, 28)</tspan><tspan x="161.2" dy="3.15" class="s">in_channels=960, out_channels=960, kernel_size=(3, 3), padding=(1, 1), groups=960</tspan><tspan x="161.2" dy="3.15">params: weight(960, 1, 3, 3)</tspan><tspan x="161.2" dy="3.15">features.16.conv.1.0</tspan></text></g>
<g id="B1-eact"><rect class="wn" x="142.5" y="775.7" width="38.3" height="16"/><text class="t" x="161.65" y="779.6"><tspan x="161.65" class="b">ReLU6_16_3</tspan><tspan x="161.65" dy="3.15">(1, 960, 28, 28)</tspan><tspan x="161.65" dy="3.15">inplace=True</tspan><tspan x="161.65" dy="3.15">features.16.conv.0.2</tspan></text></g>
<g id="B1-ebn"><rect class="gn" x="142" y="797.3" width="39" height="19"/><text class="t" x="161.5" y="801.2"><tspan x="161.5" class="b">BatchNorm2d_16_2</tspan><tspan x="161.5" dy="3.15">(1, 960, 28, 28)</tspan><tspan x="161.5" dy="3.15">eps=1e-05, momentum=0.1</tspan><tspan x="161.5" dy="3.15">params: weight(960), bias(960)</tspan><tspan x="161.5" dy="3.15">features.16.conv.0.1</tspan></text></g>
<g id="B1-ecv"><rect class="gn" x="138.5" y="822.3" width="47" height="19"/><text class="t" x="162" y="826.2"><tspan x="162" class="b">Conv2d_16_1</tspan><tspan x="162" dy="3.15">(1, 960, 28, 28)</tspan><tspan x="162" dy="3.15">in_channels=160, out_channels=960</tspan><tspan x="162" dy="3.15">params: weight(960, 160, 1, 1)</tspan><tspan x="162" dy="3.15">features.16.conv.0.0</tspan></text></g>
</g>

<g id="B2">
<g id="B2-add"><rect class="wn" x="180" y="863.3" width="27.3" height="11"/><text class="t" x="193.65" y="866.8"><tspan x="193.65" class="b">add_15_9</tspan><tspan x="193.65" dy="3.1">(1, 160, 28, 28)</tspan><tspan x="193.65" dy="3.1">features.15</tspan></text></g>
<g id="B2-pbn"><rect class="gn" x="141.7" y="896" width="39" height="19"/><text class="t" x="161.2" y="899.9"><tspan x="161.2" class="b">BatchNorm2d_15_8</tspan><tspan x="161.2" dy="3.15">(1, 160, 28, 28)</tspan><tspan x="161.2" dy="3.15">eps=1e-05, momentum=0.1</tspan><tspan x="161.2" dy="3.15">params: weight(160), bias(160)</tspan><tspan x="161.2" dy="3.15">features.15.conv.3</tspan></text></g>
<g id="B2-pcv"><rect class="gn" x="132.3" y="921" width="57.7" height="18.3"/><text class="t" x="161.15" y="924.7"><tspan x="161.15" class="b">Conv2d_15_7</tspan><tspan x="161.15" dy="3.15">(1, 160, 28, 28)</tspan><tspan x="161.15" dy="3.15" class="s">in_channels=960, out_channels=160, kernel_size=(1, 1)</tspan><tspan x="161.15" dy="3.15">params: weight(160, 960, 1, 1)</tspan><tspan x="161.15" dy="3.15">features.15.conv.2</tspan></text></g>
<g id="B2-dact"><rect class="wn" x="141.85" y="952.7" width="38.3" height="16"/><text class="t" x="161" y="956.6"><tspan x="161" class="b">ReLU6_15_6</tspan><tspan x="161" dy="3.15">(1, 960, 28, 28)</tspan><tspan x="161" dy="3.15">inplace=True</tspan><tspan x="161" dy="3.15">features.15.conv.1.2</tspan></text></g>
<g id="B2-dbn"><rect class="gn" x="141.7" y="974.3" width="39" height="19"/><text class="t" x="161.2" y="978.2"><tspan x="161.2" class="b">BatchNorm2d_15_5</tspan><tspan x="161.2" dy="3.15">(1, 960, 28, 28)</tspan><tspan x="161.2" dy="3.15">eps=1e-05, momentum=0.1</tspan><tspan x="161.2" dy="3.15">params: weight(960), bias(960)</tspan><tspan x="161.2" dy="3.15">features.15.conv.1.1</tspan></text></g>
<g id="B2-dcv"><rect class="gn" x="115.7" y="1000" width="91" height="18.7"/><text class="t" x="161.2" y="1003.8"><tspan x="161.2" class="b">Conv2d_15_4</tspan><tspan x="161.2" dy="3.15">(1, 960, 28, 28)</tspan><tspan x="161.2" dy="3.15" class="s">in_channels=960, out_channels=960, kernel_size=(3, 3), padding=(1, 1), groups=960</tspan><tspan x="161.2" dy="3.15">params: weight(960, 1, 3, 3)</tspan><tspan x="161.2" dy="3.15">features.15.conv.1.0</tspan></text></g>
<g id="B2-eact"><rect class="wn" x="142.5" y="1032.7" width="38.3" height="16"/><text class="t" x="161.65" y="1036.6"><tspan x="161.65" class="b">ReLU6_15_3</tspan><tspan x="161.65" dy="3.15">(1, 960, 28, 28)</tspan><tspan x="161.65" dy="3.15">inplace=True</tspan><tspan x="161.65" dy="3.15">features.15.conv.0.2</tspan></text></g>
<g id="B2-ebn"><rect class="gn" x="142" y="1054.3" width="39" height="19"/><text class="t" x="161.5" y="1058.2"><tspan x="161.5" class="b">BatchNorm2d_15_2</tspan><tspan x="161.5" dy="3.15">(1, 960, 28, 28)</tspan><tspan x="161.5" dy="3.15">eps=1e-05, momentum=0.1</tspan><tspan x="161.5" dy="3.15">params: weight(960), bias(960)</tspan><tspan x="161.5" dy="3.15">features.15.conv.0.1</tspan></text></g>
<g id="B2-ecv"><rect class="gn" x="138.5" y="1079.3" width="47" height="19"/><text class="t" x="162" y="1083.2"><tspan x="162" class="b">Conv2d_15_1</tspan><tspan x="162" dy="3.15">(1, 960, 28, 28)</tspan><tspan x="162" dy="3.15">in_channels=160, out_channels=960</tspan><tspan x="162" dy="3.15">params: weight(960, 160, 1, 1)</tspan><tspan x="162" dy="3.15">features.15.conv.0.0</tspan></text></g>
</g>

<g id="B3">
<g id="B3-pbn"><rect class="gn" x="141.7" y="1138.7" width="39" height="19"/><text class="t" x="161.2" y="1142.6"><tspan x="161.2" class="b">BatchNorm2d_14_8</tspan><tspan x="161.2" dy="3.15">(1, 160, 28, 28)</tspan><tspan x="161.2" dy="3.15">eps=1e-05, momentum=0.1</tspan><tspan x="161.2" dy="3.15">params: weight(160), bias(160)</tspan><tspan x="161.2" dy="3.15">features.14.conv.3</tspan></text></g>
<g id="B3-pcv"><rect class="gn" x="132.3" y="1163.7" width="57.7" height="18.3"/><text class="t" x="161.15" y="1167.4"><tspan x="161.15" class="b">Conv2d_14_7</tspan><tspan x="161.15" dy="3.15">(1, 160, 28, 28)</tspan><tspan x="161.15" dy="3.15" class="s">in_channels=576, out_channels=160, kernel_size=(1, 1)</tspan><tspan x="161.15" dy="3.15">params: weight(160, 576, 1, 1)</tspan><tspan x="161.15" dy="3.15">features.14.conv.2</tspan></text></g>
<g id="B3-dact"><rect class="wn" x="141.85" y="1195.4" width="38.3" height="16"/><text class="t" x="161" y="1199.3"><tspan x="161" class="b">ReLU6_14_6</tspan><tspan x="161" dy="3.15">(1, 576, 28, 28)</tspan><tspan x="161" dy="3.15">inplace=True</tspan><tspan x="161" dy="3.15">features.14.conv.1.2</tspan></text></g>
<g id="B3-dbn"><rect class="gn" x="141.7" y="1217" width="39" height="19"/><text class="t" x="161.2" y="1220.9"><tspan x="161.2" class="b">BatchNorm2d_14_5</tspan><tspan x="161.2" dy="3.15">(1, 576, 28, 28)</tspan><tspan x="161.2" dy="3.15">eps=1e-05, momentum=0.1</tspan><tspan x="161.2" dy="3.15">params: weight(576), bias(576)</tspan><tspan x="161.2" dy="3.15">features.14.conv.1.1</tspan></text></g>
<g id="B3-dcv"><rect class="gn" x="115.7" y="1242.7" width="91" height="18.7"/><text class="t" x="161.2" y="1246.5"><tspan x="161.2" class="b">Conv2d_14_4</tspan><tspan x="161.2" dy="3.15">(1, 576, 28, 28)</tspan><tspan x="161.2" dy="3.15" class="s">in_channels=576, out_channels=576, kernel_size=(3, 3), padding=(1, 1), groups=576</tspan><tspan x="161.2" dy="3.15">params: weight(576, 1, 3, 3)</tspan><tspan x="161.2" dy="3.15">features.14.conv.1.0</tspan></text></g>
<g id="B3-eact"><rect class="wn" x="142.5" y="1275.4" width="38.3" height="16"/><text class="t" x="161.65" y="1279.3"><tspan x="161.65" class="b">ReLU6_14_3</tspan><tspan x="161.65" dy="3.15">(1, 576, 28, 28)</tspan><tspan x="161.65" dy="3.15">inplace=True</tspan><tspan x="161.65" dy="3.15">features.14.conv.0.2</tspan></text></g>
<g id="B3-ebn"><rect class="gn" x="142" y="1297" width="39" height="19"/><text class="t" x="161.5" y="1300.9"><tspan x="161.5" class="b">BatchNorm2d_14_2</tspan><tspan x="161.5" dy="3.15">(1, 576, 28, 28)</tspan><tspan x="161.5" dy="3.15">eps=1e-05, momentum=0.1</tspan><tspan x="161.5" dy="3.15">params: weight(576), bias(576)</tspan><tspan x="161.5" dy="3.15">features.14.conv.0.1</tspan></text></g>
<g id="B3-ecv"><rect class="gn" x="138.5" y="1322" width="47" height="19"/><text class="t" x="162" y="1325.9"><tspan x="162" class="b">Conv2d_14_1</tspan><tspan x="162" dy="3.15">(1, 576, 28, 28)</tspan><tspan x="162" dy="3.15">in_channels=96, out_channels=576</tspan><tspan x="162" dy="3.15">params: weight(576, 96, 1, 1)</tspan><tspan x="162" dy="3.15">features.14.conv.0.0</tspan></text></g>
</g>

<g id="C1">
<g id="C1-add"><rect class="wn" x="147.7" y="1376.3" width="27.3" height="11"/><text class="t" x="161.35" y="1379.8"><tspan x="161.35" class="b">add_13_9</tspan><tspan x="161.35" dy="3.1">(1, 96, 28, 28)</tspan><tspan x="161.35" dy="3.1">features.13</tspan></text></g>
<g id="C1-pbn"><rect class="gn" x="141.7" y="1409" width="39" height="19"/><text class="t" x="161.2" y="1412.9"><tspan x="161.2" class="b">BatchNorm2d_13_8</tspan><tspan x="161.2" dy="3.15">(1, 96, 28, 28)</tspan><tspan x="161.2" dy="3.15">eps=1e-05, momentum=0.1</tspan><tspan x="161.2" dy="3.15">params: weight(96), bias(96)</tspan><tspan x="161.2" dy="3.15">features.13.conv.3</tspan></text></g>
<g id="C1-pcv"><rect class="gn" x="132.3" y="1434" width="57.7" height="18.3"/><text class="t" x="161.15" y="1437.7"><tspan x="161.15" class="b">Conv2d_13_7</tspan><tspan x="161.15" dy="3.15">(1, 96, 28, 28)</tspan><tspan x="161.15" dy="3.15" class="s">in_channels=576, out_channels=96, kernel_size=(1, 1)</tspan><tspan x="161.15" dy="3.15">params: weight(96, 576, 1, 1)</tspan><tspan x="161.15" dy="3.15">features.13.conv.2</tspan></text></g>
<g id="C1-dact"><rect class="wn" x="141.85" y="1465.7" width="38.3" height="16"/><text class="t" x="161" y="1469.6"><tspan x="161" class="b">ReLU6_13_6</tspan><tspan x="161" dy="3.15">(1, 576, 28, 28)</tspan><tspan x="161" dy="3.15">inplace=True</tspan><tspan x="161" dy="3.15">features.13.conv.1.2</tspan></text></g>
<g id="C1-dbn"><rect class="gn" x="141.7" y="1487.3" width="39" height="19"/><text class="t" x="161.2" y="1491.2"><tspan x="161.2" class="b">BatchNorm2d_13_5</tspan><tspan x="161.2" dy="3.15">(1, 576, 28, 28)</tspan><tspan x="161.2" dy="3.15">eps=1e-05, momentum=0.1</tspan><tspan x="161.2" dy="3.15">params: weight(576), bias(576)</tspan><tspan x="161.2" dy="3.15">features.13.conv.1.1</tspan></text></g>
<g id="C1-dcv"><rect class="gn" x="115.7" y="1513" width="91" height="18.7"/><text class="t" x="161.2" y="1516.8"><tspan x="161.2" class="b">Conv2d_13_4</tspan><tspan x="161.2" dy="3.15">(1, 576, 28, 28)</tspan><tspan x="161.2" dy="3.15" class="s">in_channels=576, out_channels=576, kernel_size=(3, 3), padding=(1, 1), groups=576</tspan><tspan x="161.2" dy="3.15">params: weight(576, 1, 3, 3)</tspan><tspan x="161.2" dy="3.15">features.13.conv.1.0</tspan></text></g>
<g id="C1-eact"><rect class="wn" x="142.5" y="1545.7" width="38.3" height="16"/><text class="t" x="161.65" y="1549.6"><tspan x="161.65" class="b">ReLU6_13_3</tspan><tspan x="161.65" dy="3.15">(1, 576, 28, 28)</tspan><tspan x="161.65" dy="3.15">inplace=True</tspan><tspan x="161.65" dy="3.15">features.13.conv.0.2</tspan></text></g>
<g id="C1-ebn"><rect class="gn" x="142" y="1567.3" width="39" height="19"/><text class="t" x="161.5" y="1571.2"><tspan x="161.5" class="b">BatchNorm2d_13_2</tspan><tspan x="161.5" dy="3.15">(1, 576, 28, 28)</tspan><tspan x="161.5" dy="3.15">eps=1e-05, momentum=0.1</tspan><tspan x="161.5" dy="3.15">params: weight(576), bias(576)</tspan><tspan x="161.5" dy="3.15">features.13.conv.0.1</tspan></text></g>
<g id="C1-ecv"><rect class="gn" x="138.5" y="1592.3" width="47" height="19"/><text class="t" x="162" y="1596.2"><tspan x="162" class="b">Conv2d_13_1</tspan><tspan x="162" dy="3.15">(1, 576, 28, 28)</tspan><tspan x="162" dy="3.15">in_channels=96, out_channels=576</tspan><tspan x="162" dy="3.15">params: weight(576, 96, 1, 1)</tspan><tspan x="162" dy="3.15">features.13.conv.0.0</tspan></text></g>
</g>

<g id="C2">
<g id="C2-add"><rect class="wn" x="180" y="1633.3" width="27.3" height="11"/><text class="t" x="193.65" y="1636.8"><tspan x="193.65" class="b">add_12_9</tspan><tspan x="193.65" dy="3.1">(1, 96, 28, 28)</tspan><tspan x="193.65" dy="3.1">features.12</tspan></text></g>
<g id="C2-pbn"><rect class="gn" x="141.7" y="1666" width="39" height="19"/><text class="t" x="161.2" y="1669.9"><tspan x="161.2" class="b">BatchNorm2d_12_8</tspan><tspan x="161.2" dy="3.15">(1, 96, 28, 28)</tspan><tspan x="161.2" dy="3.15">eps=1e-05, momentum=0.1</tspan><tspan x="161.2" dy="3.15">params: weight(96), bias(96)</tspan><tspan x="161.2" dy="3.15">features.12.conv.3</tspan></text></g>
<g id="C2-pcv"><rect class="gn" x="132.3" y="1691" width="57.7" height="18.3"/><text class="t" x="161.15" y="1694.7"><tspan x="161.15" class="b">Conv2d_12_7</tspan><tspan x="161.15" dy="3.15">(1, 96, 28, 28)</tspan><tspan x="161.15" dy="3.15" class="s">in_channels=576, out_channels=96, kernel_size=(1, 1)</tspan><tspan x="161.15" dy="3.15">params: weight(96, 576, 1, 1)</tspan><tspan x="161.15" dy="3.15">features.12.conv.2</tspan></text></g>
<g id="C2-dact"><rect class="wn" x="141.85" y="1722.7" width="38.3" height="16"/><text class="t" x="161" y="1726.6"><tspan x="161" class="b">ReLU6_12_6</tspan><tspan x="161" dy="3.15">(1, 576, 28, 28)</tspan><tspan x="161" dy="3.15">inplace=True</tspan><tspan x="161" dy="3.15">features.12.conv.1.2</tspan></text></g>
<g id="C2-dbn"><rect class="gn" x="141.7" y="1744.3" width="39" height="19"/><text class="t" x="161.2" y="1748.2"><tspan x="161.2" class="b">BatchNorm2d_12_5</tspan><tspan x="161.2" dy="3.15">(1, 576, 28, 28)</tspan><tspan x="161.2" dy="3.15">eps=1e-05, momentum=0.1</tspan><tspan x="161.2" dy="3.15">params: weight(576), bias(576)</tspan><tspan x="161.2" dy="3.15">features.12.conv.1.1</tspan></text></g>
<g id="C2-dcv"><rect class="gn" x="115.7" y="1770" width="91" height="18.7"/><text class="t" x="161.2" y="1773.8"><tspan x="161.2" class="b">Conv2d_12_4</tspan><tspan x="161.2" dy="3.15">(1, 576, 28, 28)</tspan><tspan x="161.2" dy="3.15" class="s">in_channels=576, out_channels=576, kernel_size=(3, 3), padding=(1, 1), groups=576</tspan><tspan x="161.2" dy="3.15">params: weight(576, 1, 3, 3)</tspan><tspan x="161.2" dy="3.15">features.12.conv.1.0</tspan></text></g>
<g id="C2-eact"><rect class="wn" x="142.5" y="1802.7" width="38.3" height="16"/><text class="t" x="161.65" y="1806.6"><tspan x="161.65" class="b">ReLU6_12_3</tspan><tspan x="161.65" dy="3.15">(1, 576, 28, 28)</tspan><tspan x="161.65" dy="3.15">inplace=True</tspan><tspan x="161.65" dy="3.15">features.12.conv.0.2</tspan></text></g>
<g id="C2-ebn"><rect class="gn" x="142" y="1824.3" width="39" height="19"/><text class="t" x="161.5" y="1828.2"><tspan x="161.5" class="b">BatchNorm2d_12_2</tspan><tspan x="161.5" dy="3.15">(1, 576, 28, 28)</tspan><tspan x="161.5" dy="3.15">eps=1e-05, momentum=0.1</tspan><tspan x="161.5" dy="3.15">params: weight(576), bias(576)</tspan><tspan x="161.5" dy="3.15">features.12.conv.0.1</tspan></text></g>
<g id="C2-ecv"><rect class="gn" x="138.5" y="1849.3" width="47" height="19"/><text class="t" x="162" y="1853.2"><tspan x="162" class="b">Conv2d_12_1</tspan><tspan x="162" dy="3.15">(1, 576, 28, 28)</tspan><tspan x="162" dy="3.15">in_channels=96, out_channels=576</tspan><tspan x="162" dy="3.15">params: weight(576, 96, 1, 1)</tspan><tspan x="162" dy="3.15">features.12.conv.0.0</tspan></text></g>
</g>

<g id="C3">
<g id="C3-pbn"><rect class="gn" x="141.7" y="1908.7" width="39" height="19"/><text class="t" x="161.2" y="1912.6"><tspan x="161.2" class="b">BatchNorm2d_11_8</tspan><tspan x="161.2" dy="3.15">(1, 96, 28, 28)</tspan><tspan x="161.2" dy="3.15">eps=1e-05, momentum=0.1</tspan><tspan x="161.2" dy="3.15">params: weight(96), bias(96)</tspan><tspan x="161.2" dy="3.15">features.11.conv.3</tspan></text></g>
<g id="C3-pcv"><rect class="gn" x="132.3" y="1933.7" width="57.7" height="18.3"/><text class="t" x="161.15" y="1937.4"><tspan x="161.15" class="b">Conv2d_11_7</tspan><tspan x="161.15" dy="3.15">(1, 96, 28, 28)</tspan><tspan x="161.15" dy="3.15" class="s">in_channels=384, out_channels=96, kernel_size=(1, 1)</tspan><tspan x="161.15" dy="3.15">params: weight(96, 384, 1, 1)</tspan><tspan x="161.15" dy="3.15">features.11.conv.2</tspan></text></g>
<g id="C3-dact"><rect class="wn" x="141.85" y="1965.4" width="38.3" height="16"/><text class="t" x="161" y="1969.3"><tspan x="161" class="b">ReLU6_11_6</tspan><tspan x="161" dy="3.15">(1, 384, 28, 28)</tspan><tspan x="161" dy="3.15">inplace=True</tspan><tspan x="161" dy="3.15">features.11.conv.1.2</tspan></text></g>
<g id="C3-dbn"><rect class="gn" x="141.7" y="1987" width="39" height="19"/><text class="t" x="161.2" y="1990.9"><tspan x="161.2" class="b">BatchNorm2d_11_5</tspan><tspan x="161.2" dy="3.15">(1, 384, 28, 28)</tspan><tspan x="161.2" dy="3.15">eps=1e-05, momentum=0.1</tspan><tspan x="161.2" dy="3.15">params: weight(384), bias(384)</tspan><tspan x="161.2" dy="3.15">features.11.conv.1.1</tspan></text></g>
<g id="C3-dcv"><rect class="gn" x="115.7" y="2012.7" width="91" height="18.7"/><text class="t" x="161.2" y="2016.5"><tspan x="161.2" class="b">Conv2d_11_4</tspan><tspan x="161.2" dy="3.15">(1, 384, 28, 28)</tspan><tspan x="161.2" dy="3.15" class="s">in_channels=384, out_channels=384, kernel_size=(3, 3), padding=(1, 1), groups=384</tspan><tspan x="161.2" dy="3.15">params: weight(384, 1, 3, 3)</tspan><tspan x="161.2" dy="3.15">features.11.conv.1.0</tspan></text></g>
<g id="C3-eact"><rect class="wn" x="142.5" y="2045.4" width="38.3" height="16"/><text class="t" x="161.65" y="2049.3"><tspan x="161.65" class="b">ReLU6_11_3</tspan><tspan x="161.65" dy="3.15">(1, 384, 28, 28)</tspan><tspan x="161.65" dy="3.15">inplace=True</tspan><tspan x="161.65" dy="3.15">features.11.conv.0.2</tspan></text></g>
<g id="C3-ebn"><rect class="gn" x="142" y="2067" width="39" height="19"/><text class="t" x="161.5" y="2070.9"><tspan x="161.5" class="b">BatchNorm2d_11_2</tspan><tspan x="161.5" dy="3.15">(1, 384, 28, 28)</tspan><tspan x="161.5" dy="3.15">eps=1e-05, momentum=0.1</tspan><tspan x="161.5" dy="3.15">params: weight(384), bias(384)</tspan><tspan x="161.5" dy="3.15">features.11.conv.0.1</tspan></text></g>
<g id="C3-ecv"><rect class="gn" x="138.5" y="2092" width="47" height="19"/><text class="t" x="162" y="2095.9"><tspan x="162" class="b">Conv2d_11_1</tspan><tspan x="162" dy="3.15">(1, 384, 28, 28)</tspan><tspan x="162" dy="3.15">in_channels=64, out_channels=384</tspan><tspan x="162" dy="3.15">params: weight(384, 64, 1, 1)</tspan><tspan x="162" dy="3.15">features.11.conv.0.0</tspan></text></g>
</g>

<g id="D1">
<g id="D1-add"><rect class="wn" x="147.7" y="2146.3" width="27.3" height="11"/><text class="t" x="161.35" y="2149.8"><tspan x="161.35" class="b">add_10_9</tspan><tspan x="161.35" dy="3.1">(1, 64, 28, 28)</tspan><tspan x="161.35" dy="3.1">features.10</tspan></text></g>
<g id="D1-pbn"><rect class="gn" x="141.7" y="2179" width="39" height="19"/><text class="t" x="161.2" y="2182.9"><tspan x="161.2" class="b">BatchNorm2d_10_8</tspan><tspan x="161.2" dy="3.15">(1, 64, 28, 28)</tspan><tspan x="161.2" dy="3.15">eps=1e-05, momentum=0.1</tspan><tspan x="161.2" dy="3.15">params: weight(64), bias(64)</tspan><tspan x="161.2" dy="3.15">features.10.conv.3</tspan></text></g>
<g id="D1-pcv"><rect class="gn" x="132.3" y="2204" width="57.7" height="18.3"/><text class="t" x="161.15" y="2207.7"><tspan x="161.15" class="b">Conv2d_10_7</tspan><tspan x="161.15" dy="3.15">(1, 64, 28, 28)</tspan><tspan x="161.15" dy="3.15" class="s">in_channels=384, out_channels=64, kernel_size=(1, 1)</tspan><tspan x="161.15" dy="3.15">params: weight(64, 384, 1, 1)</tspan><tspan x="161.15" dy="3.15">features.10.conv.2</tspan></text></g>
<g id="D1-dact"><rect class="wn" x="141.85" y="2235.7" width="38.3" height="16"/><text class="t" x="161" y="2239.6"><tspan x="161" class="b">ReLU6_10_6</tspan><tspan x="161" dy="3.15">(1, 384, 28, 28)</tspan><tspan x="161" dy="3.15">inplace=True</tspan><tspan x="161" dy="3.15">features.10.conv.1.2</tspan></text></g>
<g id="D1-dbn"><rect class="gn" x="141.7" y="2257.3" width="39" height="19"/><text class="t" x="161.2" y="2261.2"><tspan x="161.2" class="b">BatchNorm2d_10_5</tspan><tspan x="161.2" dy="3.15">(1, 384, 28, 28)</tspan><tspan x="161.2" dy="3.15">eps=1e-05, momentum=0.1</tspan><tspan x="161.2" dy="3.15">params: weight(384), bias(384)</tspan><tspan x="161.2" dy="3.15">features.10.conv.1.1</tspan></text></g>
<g id="D1-dcv"><rect class="gn" x="115.7" y="2283" width="91" height="18.7"/><text class="t" x="161.2" y="2286.8"><tspan x="161.2" class="b">Conv2d_10_4</tspan><tspan x="161.2" dy="3.15">(1, 384, 28, 28)</tspan><tspan x="161.2" dy="3.15" class="s">in_channels=384, out_channels=384, kernel_size=(3, 3), padding=(1, 1), groups=384</tspan><tspan x="161.2" dy="3.15">params: weight(384, 1, 3, 3)</tspan><tspan x="161.2" dy="3.15">features.10.conv.1.0</tspan></text></g>
<g id="D1-eact"><rect class="wn" x="142.5" y="2315.7" width="38.3" height="16"/><text class="t" x="161.65" y="2319.6"><tspan x="161.65" class="b">ReLU6_10_3</tspan><tspan x="161.65" dy="3.15">(1, 384, 28, 28)</tspan><tspan x="161.65" dy="3.15">inplace=True</tspan><tspan x="161.65" dy="3.15">features.10.conv.0.2</tspan></text></g>
<g id="D1-ebn"><rect class="gn" x="142" y="2337.3" width="39" height="19"/><text class="t" x="161.5" y="2341.2"><tspan x="161.5" class="b">BatchNorm2d_10_2</tspan><tspan x="161.5" dy="3.15">(1, 384, 28, 28)</tspan><tspan x="161.5" dy="3.15">eps=1e-05, momentum=0.1</tspan><tspan x="161.5" dy="3.15">params: weight(384), bias(384)</tspan><tspan x="161.5" dy="3.15">features.10.conv.0.1</tspan></text></g>
<g id="D1-ecv"><rect class="gn" x="138.5" y="2362.3" width="47" height="19"/><text class="t" x="162" y="2366.2"><tspan x="162" class="b">Conv2d_10_1</tspan><tspan x="162" dy="3.15">(1, 384, 28, 28)</tspan><tspan x="162" dy="3.15">in_channels=64, out_channels=384</tspan><tspan x="162" dy="3.15">params: weight(384, 64, 1, 1)</tspan><tspan x="162" dy="3.15">features.10.conv.0.0</tspan></text></g>
</g>

<g id="D2">
<g id="D2-add"><rect class="wn" x="180" y="2403.3" width="27.3" height="11"/><text class="t" x="193.65" y="2406.8"><tspan x="193.65" class="b">add_9_9</tspan><tspan x="193.65" dy="3.1">(1, 64, 28, 28)</tspan><tspan x="193.65" dy="3.1">features.9</tspan></text></g>
<g id="D2-pbn"><rect class="gn" x="141.7" y="2436" width="39" height="19"/><text class="t" x="161.2" y="2439.9"><tspan x="161.2" class="b">BatchNorm2d_9_8</tspan><tspan x="161.2" dy="3.15">(1, 64, 28, 28)</tspan><tspan x="161.2" dy="3.15">eps=1e-05, momentum=0.1</tspan><tspan x="161.2" dy="3.15">params: weight(64), bias(64)</tspan><tspan x="161.2" dy="3.15">features.9.conv.3</tspan></text></g>
<g id="D2-pcv"><rect class="gn" x="132.3" y="2461" width="57.7" height="18.3"/><text class="t" x="161.15" y="2464.7"><tspan x="161.15" class="b">Conv2d_9_7</tspan><tspan x="161.15" dy="3.15">(1, 64, 28, 28)</tspan><tspan x="161.15" dy="3.15" class="s">in_channels=384, out_channels=64, kernel_size=(1, 1)</tspan><tspan x="161.15" dy="3.15">params: weight(64, 384, 1, 1)</tspan><tspan x="161.15" dy="3.15">features.9.conv.2</tspan></text></g>
<g id="D2-dact"><rect class="wn" x="141.85" y="2492.7" width="38.3" height="16"/><text class="t" x="161" y="2496.6"><tspan x="161" class="b">ReLU6_9_6</tspan><tspan x="161" dy="3.15">(1, 384, 28, 28)</tspan><tspan x="161" dy="3.15">inplace=True</tspan><tspan x="161" dy="3.15">features.9.conv.1.2</tspan></text></g>
<g id="D2-dbn"><rect class="gn" x="141.7" y="2514.3" width="39" height="19"/><text class="t" x="161.2" y="2518.2"><tspan x="161.2" class="b">BatchNorm2d_9_5</tspan><tspan x="161.2" dy="3.15">(1, 384, 28, 28)</tspan><tspan x="161.2" dy="3.15">eps=1e-05, momentum=0.1</tspan><tspan x="161.2" dy="3.15">params: weight(384), bias(384)</tspan><tspan x="161.2" dy="3.15">features.9.conv.1.1</tspan></text></g>
<g id="D2-dcv"><rect class="gn" x="115.7" y="2540" width="91" height="18.7"/><text class="t" x="161.2" y="2543.8"><tspan x="161.2" class="b">Conv2d_9_4</tspan><tspan x="161.2" dy="3.15">(1, 384, 28, 28)</tspan><tspan x="161.2" dy="3.15" class="s">in_channels=384, out_channels=384, kernel_size=(3, 3), padding=(1, 1), groups=384</tspan><tspan x="161.2" dy="3.15">params: weight(384, 1, 3, 3)</tspan><tspan x="161.2" dy="3.15">features.9.conv.1.0</tspan></text></g>
<g id="D2-eact"><rect class="wn" x="142.5" y="2572.7" width="38.3" height="16"/><text class="t" x="161.65" y="2576.6"><tspan x="161.65" class="b">ReLU6_9_3</tspan><tspan x="161.65" dy="3.15">(1, 384, 28, 28)</tspan><tspan x="161.65" dy="3.15">inplace=True</tspan><tspan x="161.65" dy="3.15">features.9.conv.0.2</tspan></text></g>
<g id="D2-ebn"><rect class="gn" x="142" y="2594.3" width="39" height="19"/><text class="t" x="161.5" y="2598.2"><tspan x="161.5" class="b">BatchNorm2d_9_2</tspan><tspan x="161.5" dy="3.15">(1, 384, 28, 28)</tspan><tspan x="161.5" dy="3.15">eps=1e-05, momentum=0.1</tspan><tspan x="161.5" dy="3.15">params: weight(384), bias(384)</tspan><tspan x="161.5" dy="3.15">features.9.conv.0.1</tspan></text></g>
<g id="D2-ecv"><rect class="gn" x="138.5" y="2619.3" width="47" height="19"/><text class="t" x="162" y="2623.2"><tspan x="162" class="b">Conv2d_9_1</tspan><tspan x="162" dy="3.15">(1, 384, 28, 28)</tspan><tspan x="162" dy="3.15">in_channels=64, out_channels=384</tspan><tspan x="162" dy="3.15">params: weight(384, 64, 1, 1)</tspan><tspan x="162" dy="3.15">features.9.conv.0.0</tspan></text></g>
</g>

<g id="D3">
<g id="D3-add"><rect class="wn" x="147.7" y="2660.3" width="27.3" height="11"/><text class="t" x="161.35" y="2663.8"><tspan x="161.35" class="b">add_8_9</tspan><tspan x="161.35" dy="3.1">(1, 64, 28, 28)</tspan><tspan x="161.35" dy="3.1">features.8</tspan></text></g>
<g id="D3-pbn"><rect class="gn" x="141.7" y="2693" width="39" height="19"/><text class="t" x="161.2" y="2696.9"><tspan x="161.2" class="b">BatchNorm2d_8_8</tspan><tspan x="161.2" dy="3.15">(1, 64, 28, 28)</tspan><tspan x="161.2" dy="3.15">eps=1e-05, momentum=0.1</tspan><tspan x="161.2" dy="3.15">params: weight(64), bias(64)</tspan><tspan x="161.2" dy="3.15">features.8.conv.3</tspan></text></g>
<g id="D3-pcv"><rect class="gn" x="132.3" y="2718" width="57.7" height="18.3"/><text class="t" x="161.15" y="2721.7"><tspan x="161.15" class="b">Conv2d_8_7</tspan><tspan x="161.15" dy="3.15">(1, 64, 28, 28)</tspan><tspan x="161.15" dy="3.15" class="s">in_channels=384, out_channels=64, kernel_size=(1, 1)</tspan><tspan x="161.15" dy="3.15">params: weight(64, 384, 1, 1)</tspan><tspan x="161.15" dy="3.15">features.8.conv.2</tspan></text></g>
<g id="D3-dact"><rect class="wn" x="141.85" y="2749.7" width="38.3" height="16"/><text class="t" x="161" y="2753.6"><tspan x="161" class="b">ReLU6_8_6</tspan><tspan x="161" dy="3.15">(1, 384, 28, 28)</tspan><tspan x="161" dy="3.15">inplace=True</tspan><tspan x="161" dy="3.15">features.8.conv.1.2</tspan></text></g>
<g id="D3-dbn"><rect class="gn" x="141.7" y="2771.3" width="39" height="19"/><text class="t" x="161.2" y="2775.2"><tspan x="161.2" class="b">BatchNorm2d_8_5</tspan><tspan x="161.2" dy="3.15">(1, 384, 28, 28)</tspan><tspan x="161.2" dy="3.15">eps=1e-05, momentum=0.1</tspan><tspan x="161.2" dy="3.15">params: weight(384), bias(384)</tspan><tspan x="161.2" dy="3.15">features.8.conv.1.1</tspan></text></g>
<g id="D3-dcv"><rect class="gn" x="115.7" y="2797" width="91" height="18.7"/><text class="t" x="161.2" y="2800.8"><tspan x="161.2" class="b">Conv2d_8_4</tspan><tspan x="161.2" dy="3.15">(1, 384, 28, 28)</tspan><tspan x="161.2" dy="3.15" class="s">in_channels=384, out_channels=384, kernel_size=(3, 3), padding=(1, 1), groups=384</tspan><tspan x="161.2" dy="3.15">params: weight(384, 1, 3, 3)</tspan><tspan x="161.2" dy="3.15">features.8.conv.1.0</tspan></text></g>
<g id="D3-eact"><rect class="wn" x="142.5" y="2829.7" width="38.3" height="16"/><text class="t" x="161.65" y="2833.6"><tspan x="161.65" class="b">ReLU6_8_3</tspan><tspan x="161.65" dy="3.15">(1, 384, 28, 28)</tspan><tspan x="161.65" dy="3.15">inplace=True</tspan><tspan x="161.65" dy="3.15">features.8.conv.0.2</tspan></text></g>
<g id="D3-ebn"><rect class="gn" x="142" y="2851.3" width="39" height="19"/><text class="t" x="161.5" y="2855.2"><tspan x="161.5" class="b">BatchNorm2d_8_2</tspan><tspan x="161.5" dy="3.15">(1, 384, 28, 28)</tspan><tspan x="161.5" dy="3.15">eps=1e-05, momentum=0.1</tspan><tspan x="161.5" dy="3.15">params: weight(384), bias(384)</tspan><tspan x="161.5" dy="3.15">features.8.conv.0.1</tspan></text></g>
<g id="D3-ecv"><rect class="gn" x="138.5" y="2876.3" width="47" height="19"/><text class="t" x="162" y="2880.2"><tspan x="162" class="b">Conv2d_8_1</tspan><tspan x="162" dy="3.15">(1, 384, 28, 28)</tspan><tspan x="162" dy="3.15">in_channels=64, out_channels=384</tspan><tspan x="162" dy="3.15">params: weight(384, 64, 1, 1)</tspan><tspan x="162" dy="3.15">features.8.conv.0.0</tspan></text></g>
</g>

<g id="D4">
<g id="D4-pbn"><rect class="gn" x="141.7" y="2935.7" width="39" height="19"/><text class="t" x="161.2" y="2939.6"><tspan x="161.2" class="b">BatchNorm2d_7_8</tspan><tspan x="161.2" dy="3.15">(1, 64, 28, 28)</tspan><tspan x="161.2" dy="3.15">eps=1e-05, momentum=0.1</tspan><tspan x="161.2" dy="3.15">params: weight(64), bias(64)</tspan><tspan x="161.2" dy="3.15">features.7.conv.3</tspan></text></g>
<g id="D4-pcv"><rect class="gn" x="132.3" y="2960.7" width="57.7" height="18.3"/><text class="t" x="161.15" y="2964.4"><tspan x="161.15" class="b">Conv2d_7_7</tspan><tspan x="161.15" dy="3.15">(1, 64, 28, 28)</tspan><tspan x="161.15" dy="3.15" class="s">in_channels=192, out_channels=64, kernel_size=(1, 1)</tspan><tspan x="161.15" dy="3.15">params: weight(64, 192, 1, 1)</tspan><tspan x="161.15" dy="3.15">features.7.conv.2</tspan></text></g>
<g id="D4-dact"><rect class="wn" x="141.85" y="2992.4" width="38.3" height="16"/><text class="t" x="161" y="2996.3"><tspan x="161" class="b">ReLU6_7_6</tspan><tspan x="161" dy="3.15">(1, 192, 28, 28)</tspan><tspan x="161" dy="3.15">inplace=True</tspan><tspan x="161" dy="3.15">features.7.conv.1.2</tspan></text></g>
<g id="D4-dbn"><rect class="gn" x="141.7" y="3014" width="39" height="19"/><text class="t" x="161.2" y="3017.9"><tspan x="161.2" class="b">BatchNorm2d_7_5</tspan><tspan x="161.2" dy="3.15">(1, 192, 28, 28)</tspan><tspan x="161.2" dy="3.15">eps=1e-05, momentum=0.1</tspan><tspan x="161.2" dy="3.15">params: weight(192), bias(192)</tspan><tspan x="161.2" dy="3.15">features.7.conv.1.1</tspan></text></g>
<g id="D4-dcv"><rect class="gn" x="115.7" y="3039.7" width="91" height="18.7"/><text class="t" x="161.2" y="3043.5"><tspan x="161.2" class="b">Conv2d_7_4</tspan><tspan x="161.2" dy="3.15">(1, 192, 28, 28)</tspan><tspan x="161.2" dy="3.15" class="s">in_channels=192, out_channels=192, kernel_size=(3, 3), padding=(1, 1), groups=192</tspan><tspan x="161.2" dy="3.15">params: weight(192, 1, 3, 3)</tspan><tspan x="161.2" dy="3.15">features.7.conv.1.0</tspan></text></g>
<g id="D4-eact"><rect class="wn" x="142.5" y="3072.4" width="38.3" height="16"/><text class="t" x="161.65" y="3076.3"><tspan x="161.65" class="b">ReLU6_7_3</tspan><tspan x="161.65" dy="3.15">(1, 192, 28, 28)</tspan><tspan x="161.65" dy="3.15">inplace=True</tspan><tspan x="161.65" dy="3.15">features.7.conv.0.2</tspan></text></g>
<g id="D4-ebn"><rect class="gn" x="142" y="3094" width="39" height="19"/><text class="t" x="161.5" y="3097.9"><tspan x="161.5" class="b">BatchNorm2d_7_2</tspan><tspan x="161.5" dy="3.15">(1, 192, 28, 28)</tspan><tspan x="161.5" dy="3.15">eps=1e-05, momentum=0.1</tspan><tspan x="161.5" dy="3.15">params: weight(192), bias(192)</tspan><tspan x="161.5" dy="3.15">features.7.conv.0.1</tspan></text></g>
<g id="D4-ecv"><rect class="gn" x="138.5" y="3119" width="47" height="19"/><text class="t" x="162" y="3122.9"><tspan x="162" class="b">Conv2d_7_1</tspan><tspan x="162" dy="3.15">(1, 192, 28, 28)</tspan><tspan x="162" dy="3.15">in_channels=32, out_channels=192</tspan><tspan x="162" dy="3.15">params: weight(192, 32, 1, 1)</tspan><tspan x="162" dy="3.15">features.7.conv.0.0</tspan></text></g>
</g>

<g id="E1">
<g id="E1-add"><rect class="wn" x="147.7" y="3173.3" width="27.3" height="11"/><text class="t" x="161.35" y="3176.8"><tspan x="161.35" class="b">add_6_9</tspan><tspan x="161.35" dy="3.1">(1, 32, 28, 28)</tspan><tspan x="161.35" dy="3.1">features.6</tspan></text></g>
<g id="E1-pbn"><rect class="gn" x="141.7" y="3206" width="39" height="19"/><text class="t" x="161.2" y="3209.9"><tspan x="161.2" class="b">BatchNorm2d_6_8</tspan><tspan x="161.2" dy="3.15">(1, 32, 28, 28)</tspan><tspan x="161.2" dy="3.15">eps=1e-05, momentum=0.1</tspan><tspan x="161.2" dy="3.15">params: weight(32), bias(32)</tspan><tspan x="161.2" dy="3.15">features.6.conv.3</tspan></text></g>
<g id="E1-pcv"><rect class="gn" x="132.3" y="3231" width="57.7" height="18.3"/><text class="t" x="161.15" y="3234.7"><tspan x="161.15" class="b">Conv2d_6_7</tspan><tspan x="161.15" dy="3.15">(1, 32, 28, 28)</tspan><tspan x="161.15" dy="3.15" class="s">in_channels=192, out_channels=32, kernel_size=(1, 1)</tspan><tspan x="161.15" dy="3.15">params: weight(32, 192, 1, 1)</tspan><tspan x="161.15" dy="3.15">features.6.conv.2</tspan></text></g>
<g id="E1-dact"><rect class="wn" x="141.85" y="3262.7" width="38.3" height="16"/><text class="t" x="161" y="3266.6"><tspan x="161" class="b">ReLU6_6_6</tspan><tspan x="161" dy="3.15">(1, 192, 28, 28)</tspan><tspan x="161" dy="3.15">inplace=True</tspan><tspan x="161" dy="3.15">features.6.conv.1.2</tspan></text></g>
<g id="E1-dbn"><rect class="gn" x="141.7" y="3284.3" width="39" height="19"/><text class="t" x="161.2" y="3288.2"><tspan x="161.2" class="b">BatchNorm2d_6_5</tspan><tspan x="161.2" dy="3.15">(1, 192, 28, 28)</tspan><tspan x="161.2" dy="3.15">eps=1e-05, momentum=0.1</tspan><tspan x="161.2" dy="3.15">params: weight(192), bias(192)</tspan><tspan x="161.2" dy="3.15">features.6.conv.1.1</tspan></text></g>
<g id="E1-dcv"><rect class="gn" x="115.7" y="3310" width="91" height="18.7"/><text class="t" x="161.2" y="3313.8"><tspan x="161.2" class="b">Conv2d_6_4</tspan><tspan x="161.2" dy="3.15">(1, 192, 28, 28)</tspan><tspan x="161.2" dy="3.15" class="s">in_channels=192, out_channels=192, kernel_size=(3, 3), padding=(1, 1), groups=192</tspan><tspan x="161.2" dy="3.15">params: weight(192, 1, 3, 3)</tspan><tspan x="161.2" dy="3.15">features.6.conv.1.0</tspan></text></g>
<g id="E1-eact"><rect class="wn" x="142.5" y="3342.7" width="38.3" height="16"/><text class="t" x="161.65" y="3346.6"><tspan x="161.65" class="b">ReLU6_6_3</tspan><tspan x="161.65" dy="3.15">(1, 192, 28, 28)</tspan><tspan x="161.65" dy="3.15">inplace=True</tspan><tspan x="161.65" dy="3.15">features.6.conv.0.2</tspan></text></g>
<g id="E1-ebn"><rect class="gn" x="142" y="3364.3" width="39" height="19"/><text class="t" x="161.5" y="3368.2"><tspan x="161.5" class="b">BatchNorm2d_6_2</tspan><tspan x="161.5" dy="3.15">(1, 192, 28, 28)</tspan><tspan x="161.5" dy="3.15">eps=1e-05, momentum=0.1</tspan><tspan x="161.5" dy="3.15">params: weight(192), bias(192)</tspan><tspan x="161.5" dy="3.15">features.6.conv.0.1</tspan></text></g>
<g id="E1-ecv"><rect class="gn" x="138.5" y="3389.3" width="47" height="19"/><text class="t" x="162" y="3393.2"><tspan x="162" class="b">Conv2d_6_1</tspan><tspan x="162" dy="3.15">(1, 192, 28, 28)</tspan><tspan x="162" dy="3.15">in_channels=32, out_channels=192</tspan><tspan x="162" dy="3.15">params: weight(192, 32, 1, 1)</tspan><tspan x="162" dy="3.15">features.6.conv.0.0</tspan></text></g>
</g>

<g id="E2">
<g id="E2-add"><rect class="wn" x="180" y="3430.3" width="27.3" height="11"/><text class="t" x="193.65" y="3433.8"><tspan x="193.65" class="b">add_5_9</tspan><tspan x="193.65" dy="3.1">(1, 32, 28, 28)</tspan><tspan x="193.65" dy="3.1">features.5</tspan></text></g>
<g id="E2-pbn"><rect class="gn" x="141.7" y="3463" width="39" height="19"/><text class="t" x="161.2" y="3466.9"><tspan x="161.2" class="b">BatchNorm2d_5_8</tspan><tspan x="161.2" dy="3.15">(1, 32, 28, 28)</tspan><tspan x="161.2" dy="3.15">eps=1e-05, momentum=0.1</tspan><tspan x="161.2" dy="3.15">params: weight(32), bias(32)</tspan><tspan x="161.2" dy="3.15">features.5.conv.3</tspan></text></g>
<g id="E2-pcv"><rect class="gn" x="132.3" y="3488" width="57.7" height="18.3"/><text class="t" x="161.15" y="3491.7"><tspan x="161.15" class="b">Conv2d_5_7</tspan><tspan x="161.15" dy="3.15">(1, 32, 28, 28)</tspan><tspan x="161.15" dy="3.15" class="s">in_channels=192, out_channels=32, kernel_size=(1, 1)</tspan><tspan x="161.15" dy="3.15">params: weight(32, 192, 1, 1)</tspan><tspan x="161.15" dy="3.15">features.5.conv.2</tspan></text></g>
<g id="E2-dact"><rect class="wn" x="141.85" y="3519.7" width="38.3" height="16"/><text class="t" x="161" y="3523.6"><tspan x="161" class="b">ReLU6_5_6</tspan><tspan x="161" dy="3.15">(1, 192, 28, 28)</tspan><tspan x="161" dy="3.15">inplace=True</tspan><tspan x="161" dy="3.15">features.5.conv.1.2</tspan></text></g>
<g id="E2-dbn"><rect class="gn" x="141.7" y="3541.3" width="39" height="19"/><text class="t" x="161.2" y="3545.2"><tspan x="161.2" class="b">BatchNorm2d_5_5</tspan><tspan x="161.2" dy="3.15">(1, 192, 28, 28)</tspan><tspan x="161.2" dy="3.15">eps=1e-05, momentum=0.1</tspan><tspan x="161.2" dy="3.15">params: weight(192), bias(192)</tspan><tspan x="161.2" dy="3.15">features.5.conv.1.1</tspan></text></g>
<g id="E2-dcv"><rect class="gn" x="115.7" y="3567" width="91" height="18.7"/><text class="t" x="161.2" y="3570.8"><tspan x="161.2" class="b">Conv2d_5_4</tspan><tspan x="161.2" dy="3.15">(1, 192, 28, 28)</tspan><tspan x="161.2" dy="3.15" class="s">in_channels=192, out_channels=192, kernel_size=(3, 3), padding=(1, 1), groups=192</tspan><tspan x="161.2" dy="3.15">params: weight(192, 1, 3, 3)</tspan><tspan x="161.2" dy="3.15">features.5.conv.1.0</tspan></text></g>
<g id="E2-eact"><rect class="wn" x="142.5" y="3599.7" width="38.3" height="16"/><text class="t" x="161.65" y="3603.6"><tspan x="161.65" class="b">ReLU6_5_3</tspan><tspan x="161.65" dy="3.15">(1, 192, 28, 28)</tspan><tspan x="161.65" dy="3.15">inplace=True</tspan><tspan x="161.65" dy="3.15">features.5.conv.0.2</tspan></text></g>
<g id="E2-ebn"><rect class="gn" x="142" y="3621.3" width="39" height="19"/><text class="t" x="161.5" y="3625.2"><tspan x="161.5" class="b">BatchNorm2d_5_2</tspan><tspan x="161.5" dy="3.15">(1, 192, 28, 28)</tspan><tspan x="161.5" dy="3.15">eps=1e-05, momentum=0.1</tspan><tspan x="161.5" dy="3.15">params: weight(192), bias(192)</tspan><tspan x="161.5" dy="3.15">features.5.conv.0.1</tspan></text></g>
<g id="E2-ecv"><rect class="gn" x="138.5" y="3646.3" width="47" height="19"/><text class="t" x="162" y="3650.2"><tspan x="162" class="b">Conv2d_5_1</tspan><tspan x="162" dy="3.15">(1, 192, 28, 28)</tspan><tspan x="162" dy="3.15">in_channels=32, out_channels=192</tspan><tspan x="162" dy="3.15">params: weight(192, 32, 1, 1)</tspan><tspan x="162" dy="3.15">features.5.conv.0.0</tspan></text></g>
</g>

<g id="E3">
<g id="E3-pbn"><rect class="gn" x="141.7" y="3705.7" width="39" height="19"/><text class="t" x="161.2" y="3709.6"><tspan x="161.2" class="b">BatchNorm2d_4_8</tspan><tspan x="161.2" dy="3.15">(1, 32, 28, 28)</tspan><tspan x="161.2" dy="3.15">eps=1e-05, momentum=0.1</tspan><tspan x="161.2" dy="3.15">params: weight(32), bias(32)</tspan><tspan x="161.2" dy="3.15">features.4.conv.3</tspan></text></g>
<g id="E3-pcv"><rect class="gn" x="132.3" y="3730.7" width="57.7" height="18.3"/><text class="t" x="161.15" y="3734.4"><tspan x="161.15" class="b">Conv2d_4_7</tspan><tspan x="161.15" dy="3.15">(1, 32, 28, 28)</tspan><tspan x="161.15" dy="3.15" class="s">in_channels=144, out_channels=32, kernel_size=(1, 1)</tspan><tspan x="161.15" dy="3.15">params: weight(32, 144, 1, 1)</tspan><tspan x="161.15" dy="3.15">features.4.conv.2</tspan></text></g>
<g id="E3-dact"><rect class="wn" x="141.85" y="3762.4" width="38.3" height="16"/><text class="t" x="161" y="3766.3"><tspan x="161" class="b">ReLU6_4_6</tspan><tspan x="161" dy="3.15">(1, 144, 28, 28)</tspan><tspan x="161" dy="3.15">inplace=True</tspan><tspan x="161" dy="3.15">features.4.conv.1.2</tspan></text></g>
<g id="E3-dbn"><rect class="gn" x="141.7" y="3784" width="39" height="19"/><text class="t" x="161.2" y="3787.9"><tspan x="161.2" class="b">BatchNorm2d_4_5</tspan><tspan x="161.2" dy="3.15">(1, 144, 28, 28)</tspan><tspan x="161.2" dy="3.15">eps=1e-05, momentum=0.1</tspan><tspan x="161.2" dy="3.15">params: weight(144), bias(144)</tspan><tspan x="161.2" dy="3.15">features.4.conv.1.1</tspan></text></g>
<g id="E3-dcv"><rect class="gn" x="115.7" y="3809.7" width="91" height="18.7"/><text class="t" x="161.2" y="3813.5"><tspan x="161.2" class="b">Conv2d_4_4</tspan><tspan x="161.2" dy="3.15">(1, 144, 28, 28)</tspan><tspan x="161.2" dy="3.15" class="s">in_channels=144, out_channels=144, kernel_size=(3, 3), stride=(2, 2), groups=144</tspan><tspan x="161.2" dy="3.15">params: weight(144, 1, 3, 3)</tspan><tspan x="161.2" dy="3.15">features.4.conv.1.0</tspan></text></g>
<g id="E3-eact"><rect class="wn" x="142.5" y="3842.4" width="38.3" height="16"/><text class="t" x="161.65" y="3846.3"><tspan x="161.65" class="b">ReLU6_4_3</tspan><tspan x="161.65" dy="3.15">(1, 144, 56, 56)</tspan><tspan x="161.65" dy="3.15">inplace=True</tspan><tspan x="161.65" dy="3.15">features.4.conv.0.2</tspan></text></g>
<g id="E3-ebn"><rect class="gn" x="142" y="3864" width="39" height="19"/><text class="t" x="161.5" y="3867.9"><tspan x="161.5" class="b">BatchNorm2d_4_2</tspan><tspan x="161.5" dy="3.15">(1, 144, 56, 56)</tspan><tspan x="161.5" dy="3.15">eps=1e-05, momentum=0.1</tspan><tspan x="161.5" dy="3.15">params: weight(144), bias(144)</tspan><tspan x="161.5" dy="3.15">features.4.conv.0.1</tspan></text></g>
<g id="E3-ecv"><rect class="gn" x="138.5" y="3889" width="47" height="19"/><text class="t" x="162" y="3892.9"><tspan x="162" class="b">Conv2d_4_1</tspan><tspan x="162" dy="3.15">(1, 144, 56, 56)</tspan><tspan x="162" dy="3.15">in_channels=24, out_channels=144</tspan><tspan x="162" dy="3.15">params: weight(144, 24, 1, 1)</tspan><tspan x="162" dy="3.15">features.4.conv.0.0</tspan></text></g>
</g>

<g id="F1">
<g id="F1-add"><rect class="wn" x="147.7" y="3943.3" width="27.3" height="11"/><text class="t" x="161.35" y="3946.8"><tspan x="161.35" class="b">add_3_9</tspan><tspan x="161.35" dy="3.1">(1, 24, 56, 56)</tspan><tspan x="161.35" dy="3.1">features.3</tspan></text></g>
<g id="F1-pbn"><rect class="gn" x="141.7" y="3976" width="39" height="19"/><text class="t" x="161.2" y="3979.9"><tspan x="161.2" class="b">BatchNorm2d_3_8</tspan><tspan x="161.2" dy="3.15">(1, 24, 56, 56)</tspan><tspan x="161.2" dy="3.15">eps=1e-05, momentum=0.1</tspan><tspan x="161.2" dy="3.15">params: weight(24), bias(24)</tspan><tspan x="161.2" dy="3.15">features.3.conv.3</tspan></text></g>
<g id="F1-pcv"><rect class="gn" x="132.3" y="4001" width="57.7" height="18.3"/><text class="t" x="161.15" y="4004.7"><tspan x="161.15" class="b">Conv2d_3_7</tspan><tspan x="161.15" dy="3.15">(1, 24, 56, 56)</tspan><tspan x="161.15" dy="3.15" class="s">in_channels=144, out_channels=24, kernel_size=(1, 1)</tspan><tspan x="161.15" dy="3.15">params: weight(24, 144, 1, 1)</tspan><tspan x="161.15" dy="3.15">features.3.conv.2</tspan></text></g>
<g id="F1-dact"><rect class="wn" x="141.85" y="4032.7" width="38.3" height="16"/><text class="t" x="161" y="4036.6"><tspan x="161" class="b">ReLU6_3_6</tspan><tspan x="161" dy="3.15">(1, 144, 56, 56)</tspan><tspan x="161" dy="3.15">inplace=True</tspan><tspan x="161" dy="3.15">features.3.conv.1.2</tspan></text></g>
<g id="F1-dbn"><rect class="gn" x="141.7" y="4054.3" width="39" height="19"/><text class="t" x="161.2" y="4058.2"><tspan x="161.2" class="b">BatchNorm2d_3_5</tspan><tspan x="161.2" dy="3.15">(1, 144, 56, 56)</tspan><tspan x="161.2" dy="3.15">eps=1e-05, momentum=0.1</tspan><tspan x="161.2" dy="3.15">params: weight(144), bias(144)</tspan><tspan x="161.2" dy="3.15">features.3.conv.1.1</tspan></text></g>
<g id="F1-dcv"><rect class="gn" x="115.7" y="4080" width="91" height="18.7"/><text class="t" x="161.2" y="4083.8"><tspan x="161.2" class="b">Conv2d_3_4</tspan><tspan x="161.2" dy="3.15">(1, 144, 56, 56)</tspan><tspan x="161.2" dy="3.15" class="s">in_channels=144, out_channels=144, kernel_size=(3, 3), padding=(1, 1), groups=144</tspan><tspan x="161.2" dy="3.15">params: weight(144, 1, 3, 3)</tspan><tspan x="161.2" dy="3.15">features.3.conv.1.0</tspan></text></g>
<g id="F1-eact"><rect class="wn" x="142.5" y="4112.7" width="38.3" height="16"/><text class="t" x="161.65" y="4116.6"><tspan x="161.65" class="b">ReLU6_3_3</tspan><tspan x="161.65" dy="3.15">(1, 144, 56, 56)</tspan><tspan x="161.65" dy="3.15">inplace=True</tspan><tspan x="161.65" dy="3.15">features.3.conv.0.2</tspan></text></g>
<g id="F1-ebn"><rect class="gn" x="142" y="4134.3" width="39" height="19"/><text class="t" x="161.5" y="4138.2"><tspan x="161.5" class="b">BatchNorm2d_3_2</tspan><tspan x="161.5" dy="3.15">(1, 144, 56, 56)</tspan><tspan x="161.5" dy="3.15">eps=1e-05, momentum=0.1</tspan><tspan x="161.5" dy="3.15">params: weight(144), bias(144)</tspan><tspan x="161.5" dy="3.15">features.3.conv.0.1</tspan></text></g>
<g id="F1-ecv"><rect class="gn" x="138.5" y="4159.3" width="47" height="19"/><text class="t" x="162" y="4163.2"><tspan x="162" class="b">Conv2d_3_1</tspan><tspan x="162" dy="3.15">(1, 144, 56, 56)</tspan><tspan x="162" dy="3.15">in_channels=24, out_channels=144</tspan><tspan x="162" dy="3.15">params: weight(144, 24, 1, 1)</tspan><tspan x="162" dy="3.15">features.3.conv.0.0</tspan></text></g>
</g>

<g id="F2">
<g id="F2-pbn"><rect class="gn" x="141.7" y="4218.7" width="39" height="19"/><text class="t" x="161.2" y="4222.6"><tspan x="161.2" class="b">BatchNorm2d_2_8</tspan><tspan x="161.2" dy="3.15">(1, 24, 56, 56)</tspan><tspan x="161.2" dy="3.15">eps=1e-05, momentum=0.1</tspan><tspan x="161.2" dy="3.15">params: weight(24), bias(24)</tspan><tspan x="161.2" dy="3.15">features.2.conv.3</tspan></text></g>
<g id="F2-pcv"><rect class="gn" x="132.3" y="4243.7" width="57.7" height="18.3"/><text class="t" x="161.15" y="4247.4"><tspan x="161.15" class="b">Conv2d_2_7</tspan><tspan x="161.15" dy="3.15">(1, 24, 56, 56)</tspan><tspan x="161.15" dy="3.15" class="s">in_channels=96, out_channels=24, kernel_size=(1, 1)</tspan><tspan x="161.15" dy="3.15">params: weight(24, 96, 1, 1)</tspan><tspan x="161.15" dy="3.15">features.2.conv.2</tspan></text></g>
<g id="F2-dact"><rect class="wn" x="141.85" y="4275.4" width="38.3" height="16"/><text class="t" x="161" y="4279.3"><tspan x="161" class="b">ReLU6_2_6</tspan><tspan x="161" dy="3.15">(1, 96, 56, 56)</tspan><tspan x="161" dy="3.15">inplace=True</tspan><tspan x="161" dy="3.15">features.2.conv.1.2</tspan></text></g>
<g id="F2-dbn"><rect class="gn" x="141.7" y="4297" width="39" height="19"/><text class="t" x="161.2" y="4300.9"><tspan x="161.2" class="b">BatchNorm2d_2_5</tspan><tspan x="161.2" dy="3.15">(1, 96, 56, 56)</tspan><tspan x="161.2" dy="3.15">eps=1e-05, momentum=0.1</tspan><tspan x="161.2" dy="3.15">params: weight(96), bias(96)</tspan><tspan x="161.2" dy="3.15">features.2.conv.1.1</tspan></text></g>
<g id="F2-dcv"><rect class="gn" x="115.7" y="4322.7" width="91" height="18.7"/><text class="t" x="161.2" y="4326.5"><tspan x="161.2" class="b">Conv2d_2_4</tspan><tspan x="161.2" dy="3.15">(1, 96, 56, 56)</tspan><tspan x="161.2" dy="3.15" class="s">in_channels=96, out_channels=96, kernel_size=(3, 3), stride=(2, 2), groups=96</tspan><tspan x="161.2" dy="3.15">params: weight(96, 1, 3, 3)</tspan><tspan x="161.2" dy="3.15">features.2.conv.1.0</tspan></text></g>
<g id="F2-eact"><rect class="wn" x="142.5" y="4355.4" width="38.3" height="16"/><text class="t" x="161.65" y="4359.3"><tspan x="161.65" class="b">ReLU6_2_3</tspan><tspan x="161.65" dy="3.15">(1, 96, 112, 112)</tspan><tspan x="161.65" dy="3.15">inplace=True</tspan><tspan x="161.65" dy="3.15">features.2.conv.0.2</tspan></text></g>
<g id="F2-ebn"><rect class="gn" x="142" y="4377" width="39" height="19"/><text class="t" x="161.5" y="4380.9"><tspan x="161.5" class="b">BatchNorm2d_2_2</tspan><tspan x="161.5" dy="3.15">(1, 96, 112, 112)</tspan><tspan x="161.5" dy="3.15">eps=1e-05, momentum=0.1</tspan><tspan x="161.5" dy="3.15">params: weight(96), bias(96)</tspan><tspan x="161.5" dy="3.15">features.2.conv.0.1</tspan></text></g>
<g id="F2-ecv"><rect class="gn" x="138.5" y="4402" width="47" height="19"/><text class="t" x="162" y="4405.9"><tspan x="162" class="b">Conv2d_2_1</tspan><tspan x="162" dy="3.15">(1, 96, 112, 112)</tspan><tspan x="162" dy="3.15">in_channels=16, out_channels=96</tspan><tspan x="162" dy="3.15">params: weight(96, 16, 1, 1)</tspan><tspan x="162" dy="3.15">features.2.conv.0.0</tspan></text></g>
</g>

<g id="G1">
<g id="G1-pbn"><rect class="gn" x="141.7" y="4468.7" width="39" height="19"/><text class="t" x="161.2" y="4472.6"><tspan x="161.2" class="b">BatchNorm2d_1_5</tspan><tspan x="161.2" dy="3.15">(1, 16, 112, 112)</tspan><tspan x="161.2" dy="3.15">eps=1e-05, momentum=0.1</tspan><tspan x="161.2" dy="3.15">params: weight(16), bias(16)</tspan><tspan x="161.2" dy="3.15">features.1.conv.2</tspan></text></g>
<g id="G1-pcv"><rect class="gn" x="132.3" y="4493.7" width="57.7" height="18.3"/><text class="t" x="161.15" y="4497.4"><tspan x="161.15" class="b">Conv2d_1_4</tspan><tspan x="161.15" dy="3.15">(1, 16, 112, 112)</tspan><tspan x="161.15" dy="3.15" class="s">in_channels=32, out_channels=16, kernel_size=(1, 1)</tspan><tspan x="161.15" dy="3.15">params: weight(16, 32, 1, 1)</tspan><tspan x="161.15" dy="3.15">features.1.conv.1</tspan></text></g>
<g id="G1-dact"><rect class="wn" x="141.85" y="4525.4" width="38.3" height="16"/><text class="t" x="161" y="4529.3"><tspan x="161" class="b">ReLU6_1_3</tspan><tspan x="161" dy="3.15">(1, 32, 112, 112)</tspan><tspan x="161" dy="3.15">inplace=True</tspan><tspan x="161" dy="3.15">features.1.conv.0.2</tspan></text></g>
<g id="G1-dbn"><rect class="gn" x="141.7" y="4547" width="39" height="19"/><text class="t" x="161.2" y="4550.9"><tspan x="161.2" class="b">BatchNorm2d_1_2</tspan><tspan x="161.2" dy="3.15">(1, 32, 112, 112)</tspan><tspan x="161.2" dy="3.15">eps=1e-05, momentum=0.1</tspan><tspan x="161.2" dy="3.15">params: weight(32), bias(32)</tspan><tspan x="161.2" dy="3.15">features.1.conv.0.1</tspan></text></g>
<g id="G1-dcv"><rect class="gn" x="115.7" y="4572.7" width="91" height="18.7"/><text class="t" x="161.2" y="4576.5"><tspan x="161.2" class="b">Conv2d_1_1</tspan><tspan x="161.2" dy="3.15">(1, 32, 112, 112)</tspan><tspan x="161.2" dy="3.15" class="s">in_channels=32, out_channels=32, kernel_size=(3, 3), padding=(1, 1), groups=32</tspan><tspan x="161.2" dy="3.15">params: weight(32, 1, 3, 3)</tspan><tspan x="161.2" dy="3.15">features.1.conv.0.0</tspan></text></g>
</g>

<g id="stem-act"><rect class="wn" x="141.85" y="4613" width="38.3" height="16"/><text class="t" x="161" y="4616.9"><tspan x="161" class="b">ReLU6_0_2</tspan><tspan x="161" dy="3.15">(1, 32, 112, 112)</tspan><tspan x="161" dy="3.15">inplace=True</tspan><tspan x="161" dy="3.15">features.0.2</tspan></text></g>
<g id="stem-bn"><rect class="gn" x="141.7" y="4634" width="39" height="19"/><text class="t" x="161.2" y="4637.9"><tspan x="161.2" class="b">BatchNorm2d_0_1</tspan><tspan x="161.2" dy="3.15">(1, 32, 112, 112)</tspan><tspan x="161.2" dy="3.15">eps=1e-05, momentum=0.1</tspan><tspan x="161.2" dy="3.15">params: weight(32), bias(32)</tspan><tspan x="161.2" dy="3.15">features.0.1</tspan></text></g>
<g id="stem-conv"><rect class="gn" x="115.7" y="4660" width="91" height="18.7"/><text class="t" x="161.2" y="4663.8"><tspan x="161.2" class="b">Conv2d_0_0</tspan><tspan x="161.2" dy="3.15">(1, 32, 112, 112)</tspan><tspan x="161.2" dy="3.15" class="s">in_channels=3, out_channels=32, kernel_size=(3, 3), stride=(2, 2), padding=(1, 1)</tspan><tspan x="161.2" dy="3.15">params: weight(32, 3, 3, 3)</tspan><tspan x="161.2" dy="3.15">features.0.0</tspan></text></g>
<g id="input"><ellipse cx="161.2" cy="4699" rx="20" ry="7.5" fill="#90ee90" stroke="#4a8a4a" stroke-width="0.3"/><text class="t" x="161.2" y="4696.3"><tspan x="161.2" class="b">input_1_0</tspan><tspan x="161.2" dy="3.1">1x3x224x224 (588.1 KB)</tspan><tspan x="161.2" dy="3.1">@input</tspan></text></g>
</g>
</svg>
